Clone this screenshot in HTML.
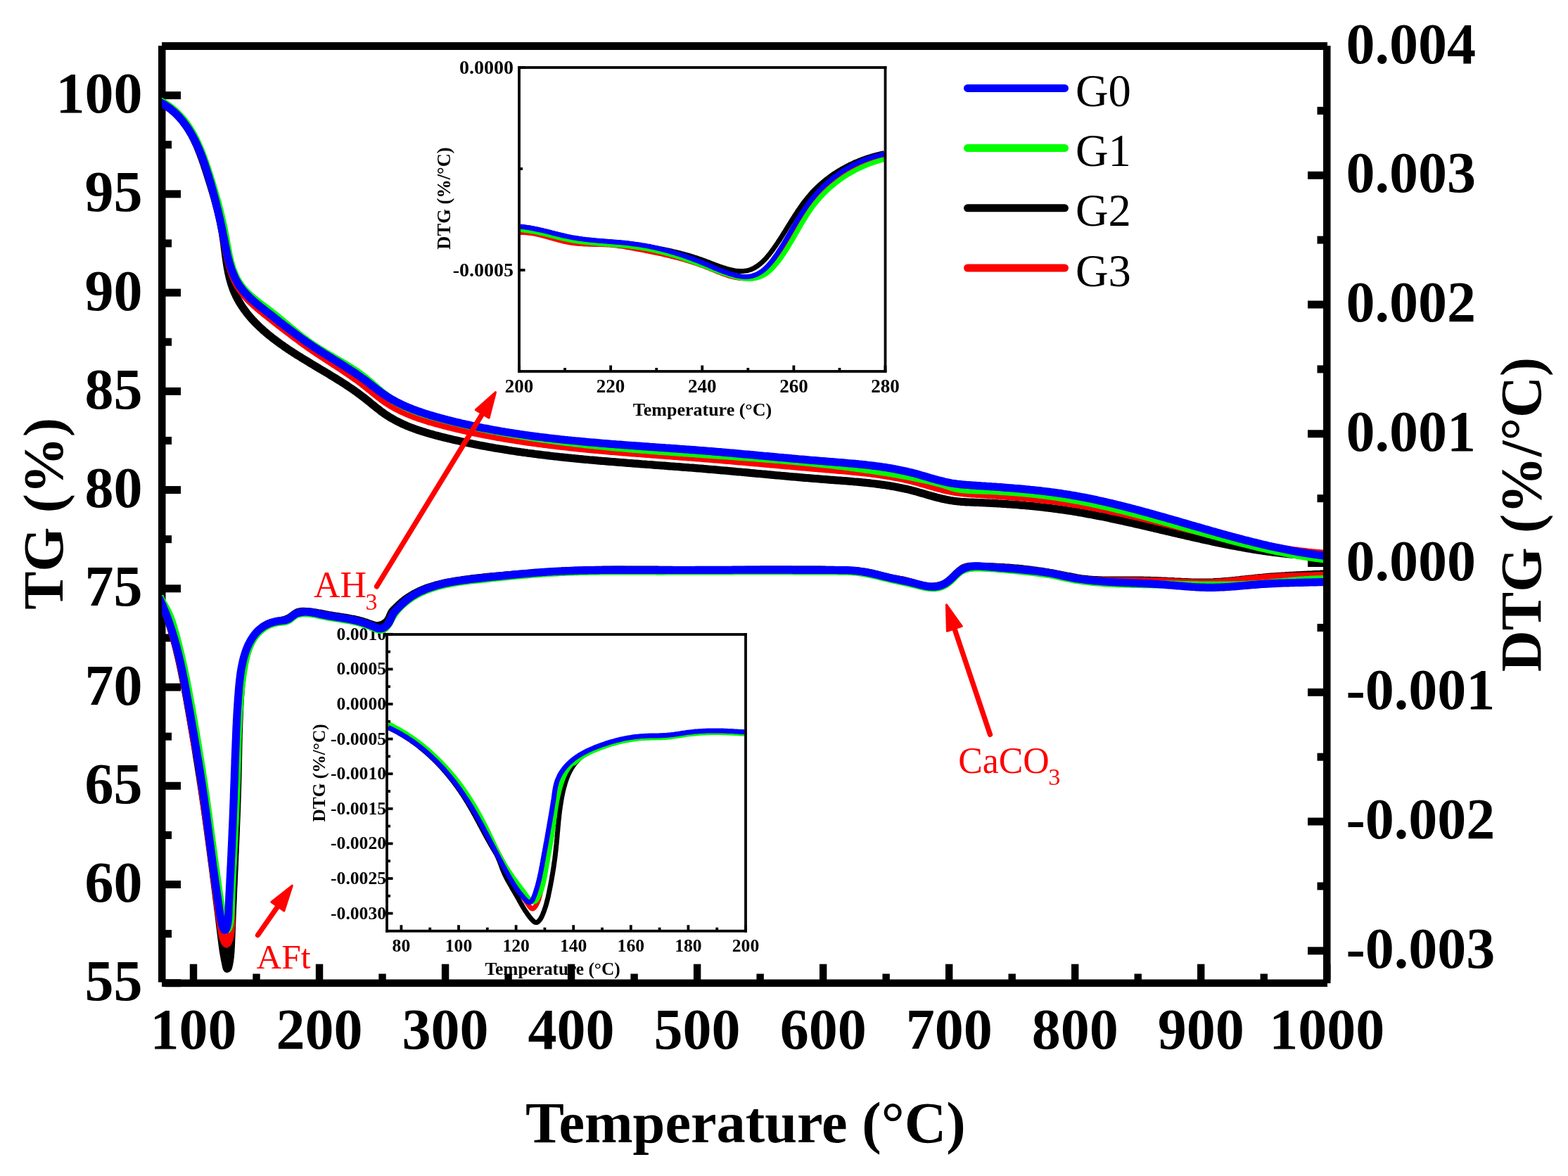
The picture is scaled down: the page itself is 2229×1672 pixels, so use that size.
<!DOCTYPE html>
<html><head><meta charset="utf-8"><title>TG-DTG</title>
<style>html,body{margin:0;padding:0;background:#fff;}svg{display:block;}text{font-family:'Liberation Serif', 'Times New Roman', serif;}</style>
</head><body>
<svg xmlns="http://www.w3.org/2000/svg" width="2229" height="1672" viewBox="0 0 2229 1672">
<rect width="100%" height="100%" fill="#fff"/>
<g id="inset1">
<clipPath id="c1"><rect x="738.0" y="96.0" width="520.5" height="432.0"/></clipPath>
<g clip-path="url(#c1)">
<path d="M740,322.3l2.5,0.3 2.4,0.3 2.5,0.3 2.5,0.4 2.4,0.4 2.5,0.5 2.5,0.4 2.4,0.5 2.5,0.5 2.4,0.6 2.4,0.5 2.5,0.6 2.4,0.6 2.4,0.6 2.5,0.6 2.4,0.6 2.4,0.6 2.5,0.6 2.4,0.6 2.4,0.6 2.4,0.6 2.4,0.6 2.5,0.6 2.4,0.6 2.4,0.6 2.5,0.6 2.4,0.5 2.5,0.6 2.4,0.5 2.5,0.5 2.4,0.4 2.5,0.5 2.4,0.4 2.5,0.4 2.5,0.4 2.4,0.4 2.5,0.4 2.5,0.3 2.5,0.4 2.5,0.3 2.4,0.3 2.5,0.3 2.5,0.3 2.5,0.3 2.5,0.2 2.5,0.3 2.5,0.2 2.4,0.3 2.5,0.2 2.5,0.3 2.5,0.2 2.5,0.2 2.5,0.3 2.5,0.2 2.5,0.2 2.5,0.2 2.5,0.3 2.4,0.2 2.5,0.2 2.5,0.3 2.5,0.2 2.5,0.3 2.5,0.2 2.5,0.3 2.5,0.2 2.4,0.3 2.5,0.3 2.5,0.3 2.5,0.3 2.5,0.3 2.5,0.4 2.4,0.3 2.5,0.4 2.5,0.3 2.5,0.4 2.4,0.4 2.5,0.4 2.5,0.4 2.4,0.4 2.5,0.5 2.4,0.4 2.5,0.5 2.5,0.5 2.4,0.5 2.5,0.5 2.4,0.5 2.4,0.5 2.5,0.6 2.4,0.5 2.5,0.6 2.4,0.6 2.4,0.6 2.4,0.7 2.4,0.6 2.5,0.7 2.4,0.6 2.4,0.7 2.4,0.7 2.4,0.8 2.3,0.7 2.4,0.8 2.4,0.7 2.4,0.8 2.3,0.8 2.4,0.9 2.4,0.8 2.3,0.9 2.3,0.9 2.4,0.9 2.3,0.9 2.4,0.9 2.3,0.9 2.3,0.9 2.4,0.8 2.3,0.9 2.4,0.9 2.3,0.8 2.4,0.8 2.4,0.7 2.4,0.8 2.4,0.6 2.4,0.6 2.4,0.6 2.5,0.5 2.5,0.4 2.4,0.3 2.5,0.3 2.5,0.1 2.5,0 2.5-0.2 2.5-0.3 2.5-0.4 2.4-0.7 2.3-0.8 2.3-1 2.3-1.1 2.1-1.2 2.1-1.4 2.1-1.4 2-1.6 1.9-1.6 1.8-1.7 1.8-1.7 1.8-1.8 1.7-1.8 1.6-1.9 1.6-1.9 1.6-2 1.5-1.9 1.5-2 1.5-2.1 1.5-2 1.4-2 1.4-2.1 1.4-2.1 1.4-2 1.4-2.1 1.4-2.1 1.3-2.1 1.4-2.1 1.3-2.1 1.3-2.2 1.4-2.1 1.3-2.1 1.3-2.1 1.3-2.2 1.3-2.1 1.3-2.1 1.4-2.1 1.3-2.2 1.3-2.1 1.3-2.1 1.4-2.1 1.3-2.1 1.4-2.1 1.4-2.1 1.3-2.1 1.4-2.1 1.4-2 1.5-2.1 1.4-2 1.5-2.1 1.5-2 1.5-2 1.5-1.9 1.6-2 1.5-1.9 1.7-1.9 1.6-1.9 1.6-1.9 1.7-1.9 1.8-1.8 1.7-1.8 1.8-1.7 1.8-1.8 1.8-1.7 1.9-1.6 1.8-1.7 1.9-1.6 2-1.6 1.9-1.6 2-1.5 2-1.6 2-1.5 2-1.4 2-1.5 2.1-1.4 2.1-1.3 2.1-1.4 2.1-1.3 2.2-1.3 2.1-1.3 2.2-1.2 2.2-1.2 2.2-1.2 2.2-1.1 2.2-1.2 2.3-1.1 2.3-1 2.2-1.1 2.3-1 2.3-0.9 2.3-1 2.4-0.9 2.3-0.9 2.3-0.9 2.4-0.8 2.4-0.8 2.3-0.8 2.4-0.7 2.4-0.8 2.4-0.6 2.4-0.7 2.5-0.6 2.4-0.6 2.4-0.6 2.5-0.5 2.4-0.5" fill="none" stroke="#000000" stroke-width="7" stroke-linejoin="round" stroke-linecap="butt"/>
<path d="M740,330.4l2.5,0 2.5,0.1 2.5,0.2 2.5,0.2 2.4,0.3 2.5,0.3 2.5,0.4 2.5,0.4 2.4,0.5 2.4,0.6 2.5,0.5 2.4,0.6 2.4,0.6 2.5,0.7 2.4,0.6 2.4,0.7 2.4,0.7 2.4,0.7 2.4,0.6 2.4,0.7 2.4,0.7 2.4,0.6 2.5,0.7 2.4,0.6 2.4,0.6 2.4,0.5 2.5,0.6 2.4,0.4 2.5,0.5 2.5,0.3 2.5,0.4 2.4,0.3 2.5,0.2 2.5,0.2 2.5,0.2 2.5,0.2 2.5,0.1 2.5,0.1 2.5,0.1 2.5,0.1 2.5,0.1 2.5,0 2.5,0.1 2.5,0 2.5,0.1 2.5,0.1 2.5,0 2.5,0.1 2.5,0.1 2.5,0.2 2.5,0.1 2.5,0.2 2.5,0.2 2.5,0.2 2.5,0.3 2.4,0.3 2.5,0.4 2.5,0.3 2.5,0.4 2.4,0.4 2.5,0.4 2.5,0.5 2.4,0.4 2.5,0.5 2.4,0.4 2.5,0.5 2.5,0.5 2.4,0.5 2.5,0.4 2.4,0.5 2.5,0.5 2.4,0.5 2.5,0.5 2.4,0.4 2.5,0.5 2.4,0.5 2.5,0.5 2.4,0.5 2.5,0.6 2.4,0.5 2.5,0.5 2.4,0.5 2.5,0.6 2.4,0.5 2.4,0.6 2.5,0.6 2.4,0.6 2.4,0.6 2.5,0.6 2.4,0.6 2.4,0.6 2.4,0.7 2.4,0.6 2.4,0.7 2.4,0.7 2.4,0.7 2.4,0.7 2.4,0.8 2.4,0.7 2.4,0.8 2.4,0.8 2.3,0.8 2.4,0.8 2.4,0.9 2.3,0.8 2.3,0.9 2.4,0.9 2.3,0.9 2.3,0.9 2.4,0.9 2.3,1 2.3,0.9 2.3,1 2.3,0.9 2.3,0.9 2.4,0.9 2.3,0.9 2.4,0.9 2.3,0.9 2.4,0.8 2.3,0.8 2.4,0.7 2.4,0.7 2.5,0.6 2.4,0.6 2.5,0.4 2.4,0.5 2.5,0.3 2.5,0.2 2.5,0.1 2.5,0 2.5-0.1 2.5-0.2 2.5-0.4 2.4-0.5 2.4-0.7 2.4-0.8 2.3-0.9 2.3-1 2.2-1.1 2.2-1.2 2.1-1.3 2.1-1.5 2-1.5 1.9-1.6 1.8-1.7 1.8-1.7 1.8-1.8 1.6-1.9 1.7-1.9 1.5-1.9 1.6-2 1.5-2 1.5-2 1.4-2 1.5-2.1 1.4-2 1.4-2.1 1.4-2.1 1.3-2.1 1.4-2.1 1.3-2.2 1.3-2.1 1.3-2.1 1.3-2.2 1.2-2.1 1.3-2.2 1.3-2.1 1.2-2.2 1.3-2.2 1.2-2.1 1.3-2.2 1.2-2.2 1.2-2.2 1.3-2.1 1.3-2.2 1.2-2.1 1.3-2.2 1.3-2.1 1.3-2.2 1.3-2.1 1.3-2.1 1.3-2.1 1.4-2.1 1.4-2.1 1.4-2.1 1.4-2.1 1.5-2 1.4-2 1.5-2 1.5-2 1.6-2 1.6-1.9 1.6-1.9 1.6-1.9 1.7-1.9 1.7-1.8 1.7-1.8 1.8-1.8 1.8-1.8 1.8-1.7 1.8-1.7 1.8-1.7 1.9-1.7 1.9-1.6 1.9-1.6 1.9-1.6 2-1.5 2-1.5 2-1.5 2-1.5 2.1-1.5 2-1.4 2.1-1.3 2.1-1.4 2.1-1.3 2.2-1.3 2.1-1.3 2.2-1.2 2.2-1.3 2.2-1.1 2.2-1.2 2.2-1.1 2.3-1.1 2.3-1.1 2.2-1 2.3-1 2.3-1 2.3-0.9 2.4-0.9 2.3-0.9 2.4-0.8 2.3-0.9 2.4-0.7 2.4-0.8 2.4-0.7 2.4-0.7 2.4-0.7 2.4-0.6 2.5-0.6" fill="none" stroke="#ff0000" stroke-width="7" stroke-linejoin="round" stroke-linecap="butt"/>
<path d="M740,326.6l2.5,0.2 2.4,0.3 2.5,0.3 2.5,0.3 2.5,0.4 2.4,0.4 2.5,0.5 2.5,0.4 2.4,0.5 2.5,0.5 2.4,0.6 2.4,0.5 2.5,0.6 2.4,0.6 2.4,0.6 2.5,0.6 2.4,0.6 2.4,0.6 2.5,0.6 2.4,0.6 2.4,0.6 2.4,0.6 2.5,0.6 2.4,0.6 2.4,0.5 2.5,0.6 2.4,0.5 2.5,0.5 2.4,0.5 2.5,0.4 2.5,0.5 2.4,0.4 2.5,0.4 2.5,0.3 2.4,0.4 2.5,0.3 2.5,0.3 2.5,0.3 2.5,0.2 2.5,0.3 2.5,0.2 2.4,0.3 2.5,0.2 2.5,0.2 2.5,0.2 2.5,0.2 2.5,0.2 2.5,0.2 2.5,0.2 2.5,0.2 2.5,0.2 2.5,0.2 2.5,0.2 2.5,0.2 2.5,0.2 2.5,0.2 2.4,0.2 2.5,0.2 2.5,0.2 2.5,0.3 2.5,0.2 2.5,0.3 2.5,0.3 2.5,0.3 2.4,0.3 2.5,0.3 2.5,0.4 2.5,0.3 2.4,0.4 2.5,0.4 2.5,0.5 2.4,0.4 2.5,0.5 2.5,0.4 2.4,0.5 2.5,0.6 2.4,0.5 2.4,0.5 2.5,0.6 2.4,0.6 2.4,0.6 2.5,0.6 2.4,0.6 2.4,0.7 2.4,0.7 2.4,0.6 2.4,0.7 2.4,0.7 2.4,0.7 2.4,0.8 2.4,0.7 2.4,0.8 2.4,0.7 2.3,0.8 2.4,0.8 2.4,0.8 2.4,0.8 2.3,0.8 2.4,0.8 2.3,0.9 2.4,0.8 2.4,0.9 2.3,0.8 2.3,0.9 2.4,0.9 2.3,0.9 2.4,0.8 2.3,0.9 2.3,1 2.4,0.9 2.3,0.9 2.3,0.9 2.4,0.9 2.3,0.9 2.3,0.9 2.4,0.8 2.3,0.9 2.4,0.8 2.3,0.9 2.4,0.8 2.4,0.7 2.4,0.8 2.4,0.7 2.4,0.7 2.4,0.6 2.4,0.6 2.5,0.6 2.4,0.5 2.5,0.4 2.4,0.4 2.5,0.3 2.5,0.2 2.5,0.2 2.5,0 2.5-0.2 2.5-0.3 2.5-0.4 2.4-0.6 2.4-0.7 2.3-0.8 2.3-1.1 2.3-1.1 2.1-1.2 2.1-1.4 2-1.5 2-1.6 1.8-1.7 1.8-1.7 1.8-1.8 1.6-1.8 1.7-1.9 1.6-2 1.5-1.9 1.6-2 1.5-2 1.4-2 1.5-2.1 1.4-2 1.4-2.1 1.4-2.1 1.3-2.1 1.4-2.1 1.3-2.1 1.3-2.1 1.3-2.2 1.3-2.1 1.3-2.2 1.2-2.1 1.3-2.2 1.2-2.2 1.3-2.1 1.2-2.2 1.3-2.2 1.2-2.1 1.3-2.2 1.2-2.2 1.3-2.1 1.2-2.2 1.3-2.2 1.3-2.1 1.3-2.2 1.3-2.1 1.3-2.1 1.3-2.1 1.4-2.1 1.4-2.1 1.4-2.1 1.4-2.1 1.4-2 1.5-2 1.5-2 1.5-2 1.6-2 1.5-1.9 1.7-1.9 1.6-1.9 1.7-1.9 1.6-1.8 1.8-1.9 1.7-1.7 1.8-1.8 1.8-1.8 1.8-1.7 1.8-1.7 1.9-1.6 1.9-1.7 1.9-1.6 1.9-1.6 2-1.6 1.9-1.5 2-1.5 2-1.5 2.1-1.4 2-1.5 2.1-1.4 2.1-1.3 2.1-1.4 2.2-1.3 2.1-1.2 2.2-1.3 2.2-1.2 2.2-1.2 2.2-1.2 2.2-1.1 2.3-1.1 2.2-1 2.3-1.1 2.3-1 2.3-1 2.3-0.9 2.3-0.9 2.4-0.9 2.3-0.8 2.4-0.8 2.4-0.8 2.4-0.8 2.4-0.7 2.4-0.7 2.4-0.6 2.4-0.6" fill="none" stroke="#00ff00" stroke-width="7" stroke-linejoin="round" stroke-linecap="butt"/>
<path d="M740,322.3l2.5,0.2 2.5,0.3 2.4,0.3 2.5,0.4 2.5,0.3 2.5,0.5 2.4,0.4 2.5,0.5 2.4,0.5 2.5,0.5 2.4,0.5 2.5,0.6 2.4,0.5 2.4,0.6 2.5,0.6 2.4,0.6 2.4,0.6 2.4,0.7 2.5,0.6 2.4,0.6 2.4,0.6 2.5,0.6 2.4,0.6 2.4,0.6 2.5,0.5 2.4,0.6 2.4,0.5 2.5,0.5 2.5,0.5 2.4,0.5 2.5,0.4 2.4,0.4 2.5,0.4 2.5,0.4 2.5,0.3 2.5,0.4 2.4,0.3 2.5,0.3 2.5,0.2 2.5,0.3 2.5,0.3 2.5,0.2 2.5,0.2 2.5,0.3 2.5,0.2 2.5,0.2 2.4,0.2 2.5,0.2 2.5,0.2 2.5,0.2 2.5,0.2 2.5,0.2 2.5,0.2 2.5,0.2 2.5,0.2 2.5,0.2 2.5,0.2 2.5,0.2 2.5,0.3 2.5,0.2 2.5,0.3 2.4,0.2 2.5,0.3 2.5,0.3 2.5,0.3 2.5,0.4 2.5,0.3 2.4,0.4 2.5,0.3 2.5,0.5 2.4,0.4 2.5,0.4 2.5,0.5 2.4,0.4 2.5,0.5 2.4,0.6 2.5,0.5 2.4,0.5 2.5,0.6 2.4,0.6 2.4,0.6 2.5,0.6 2.4,0.6 2.4,0.7 2.4,0.6 2.4,0.7 2.4,0.7 2.4,0.7 2.4,0.7 2.4,0.8 2.4,0.7 2.4,0.8 2.4,0.7 2.3,0.8 2.4,0.8 2.4,0.9 2.3,0.8 2.4,0.8 2.3,0.9 2.4,0.9 2.3,0.9 2.4,0.9 2.3,0.9 2.3,0.9 2.3,0.9 2.4,1 2.3,0.9 2.3,1 2.3,1 2.3,0.9 2.3,1 2.3,1 2.3,1 2.3,1 2.3,0.9 2.3,1 2.4,0.9 2.3,0.9 2.3,0.9 2.4,0.8 2.3,0.9 2.4,0.8 2.4,0.7 2.4,0.7 2.4,0.7 2.4,0.6 2.5,0.5 2.4,0.5 2.5,0.4 2.5,0.3 2.5,0.2 2.5,0 2.5-0.1 2.5-0.3 2.4-0.4 2.5-0.7 2.3-0.8 2.3-0.9 2.3-1.1 2.2-1.3 2.1-1.3 2-1.5 2-1.6 1.8-1.6 1.9-1.7 1.7-1.8 1.7-1.8 1.6-1.9 1.6-2 1.6-1.9 1.5-2 1.5-2.1 1.4-2 1.4-2.1 1.5-2 1.3-2.1 1.4-2.1 1.4-2.1 1.3-2.1 1.3-2.1 1.4-2.2 1.3-2.1 1.3-2.1 1.2-2.2 1.3-2.1 1.3-2.2 1.3-2.2 1.2-2.1 1.3-2.2 1.2-2.1 1.3-2.2 1.2-2.2 1.3-2.1 1.3-2.2 1.2-2.2 1.3-2.1 1.3-2.2 1.3-2.1 1.3-2.1 1.3-2.2 1.3-2.1 1.4-2.1 1.3-2.1 1.4-2.1 1.4-2.1 1.4-2 1.5-2.1 1.4-2 1.5-2 1.5-2 1.5-2 1.6-2 1.6-1.9 1.6-1.9 1.6-1.9 1.7-1.9 1.7-1.9 1.7-1.8 1.7-1.8 1.8-1.8 1.8-1.7 1.8-1.7 1.8-1.7 1.9-1.7 1.8-1.7 2-1.6 1.9-1.6 1.9-1.6 2-1.5 2-1.5 2-1.5 2-1.5 2.1-1.4 2-1.4 2.1-1.4 2.1-1.3 2.2-1.4 2.1-1.2 2.2-1.3 2.2-1.2 2.2-1.2 2.2-1.2 2.2-1.1 2.3-1.1 2.2-1.1 2.3-1 2.3-1 2.3-1 2.3-1 2.3-0.9 2.4-0.8 2.3-0.9 2.4-0.8 2.4-0.7 2.4-0.8 2.4-0.7 2.4-0.6 2.4-0.7 2.5-0.6 2.4-0.5 2.5-0.5" fill="none" stroke="#0000ff" stroke-width="7" stroke-linejoin="round" stroke-linecap="butt"/>
</g>
<rect x="736.10" y="94.10" width="3.80" height="435.80" fill="#000"/>
<rect x="1256.60" y="94.10" width="3.80" height="435.80" fill="#000"/>
<rect x="736.10" y="94.10" width="524.30" height="3.80" fill="#000"/>
<rect x="736.10" y="526.10" width="524.30" height="3.80" fill="#000"/>
<rect x="736.10" y="519.50" width="3.80" height="8.50" fill="#000"/>
<rect x="801.16" y="523.00" width="3.80" height="5.00" fill="#000"/>
<rect x="866.23" y="519.50" width="3.80" height="8.50" fill="#000"/>
<rect x="931.29" y="523.00" width="3.80" height="5.00" fill="#000"/>
<rect x="996.35" y="519.50" width="3.80" height="8.50" fill="#000"/>
<rect x="1061.41" y="523.00" width="3.80" height="5.00" fill="#000"/>
<rect x="1126.47" y="519.50" width="3.80" height="8.50" fill="#000"/>
<rect x="1191.54" y="523.00" width="3.80" height="5.00" fill="#000"/>
<rect x="1256.60" y="519.50" width="3.80" height="8.50" fill="#000"/>
<rect x="738.00" y="94.10" width="8.50" height="3.80" fill="#000"/>
<rect x="738.00" y="238.10" width="5.00" height="3.80" fill="#000"/>
<rect x="738.00" y="382.10" width="8.50" height="3.80" fill="#000"/>
<text x="738.00" y="557.80" font-size="27.00" font-weight="bold" text-anchor="middle" fill="#000">200</text>
<text x="868.12" y="557.80" font-size="27.00" font-weight="bold" text-anchor="middle" fill="#000">220</text>
<text x="998.25" y="557.80" font-size="27.00" font-weight="bold" text-anchor="middle" fill="#000">240</text>
<text x="1128.38" y="557.80" font-size="27.00" font-weight="bold" text-anchor="middle" fill="#000">260</text>
<text x="1258.50" y="557.80" font-size="27.00" font-weight="bold" text-anchor="middle" fill="#000">280</text>
<text x="730.10" y="104.70" font-size="28.00" font-weight="bold" text-anchor="end" fill="#000">0.0000</text>
<text x="730.10" y="392.70" font-size="28.00" font-weight="bold" text-anchor="end" fill="#000">-0.0005</text>
<text x="998.50" y="591.00" font-size="26.00" font-weight="bold" text-anchor="middle" fill="#000">Temperature (&#176;C)</text>
<text x="0.00" y="0.00" font-size="26.50" font-weight="bold" text-anchor="middle" fill="#000" transform="translate(640.4,282) rotate(-90)">DTG (%/&#176;C)</text>
</g>
<g id="inset2">
<clipPath id="c2"><rect x="550.0" y="902.0" width="510.0" height="421.7"/></clipPath>
<g clip-path="url(#c2)">
<path d="M552,1034.3l2.2,1.1 2.3,1.1 2.2,1.1 2.3,1.2 2.2,1.2 2.2,1.2 2.1,1.2 2.2,1.3 2.2,1.2 2.1,1.3 2.1,1.4 2.1,1.3 2.1,1.4 2.1,1.4 2.1,1.4 2,1.5 2.1,1.4 2,1.5 2,1.5 2,1.5 2,1.6 1.9,1.6 1.9,1.6 2,1.6 1.9,1.6 1.9,1.6 1.8,1.7 1.9,1.7 1.8,1.7 1.9,1.7 1.8,1.7 1.8,1.8 1.8,1.7 1.7,1.8 1.8,1.8 1.7,1.8 1.7,1.9 1.7,1.8 1.7,1.9 1.6,1.9 1.7,1.8 1.6,1.9 1.6,2 1.6,1.9 1.6,1.9 1.6,2 1.6,2 1.5,1.9 1.5,2 1.5,2 1.5,2.1 1.5,2 1.4,2 1.5,2.1 1.4,2 1.4,2.1 1.4,2.1 1.4,2.1 1.3,2.1 1.4,2.1 1.3,2.1 1.3,2.2 1.4,2.1 1.2,2.2 1.3,2.1 1.3,2.2 1.2,2.2 1.3,2.1 1.2,2.2 1.2,2.2 1.2,2.2 1.2,2.2 1.2,2.2 1.2,2.2 1.2,2.2 1.2,2.2 1.1,2.3 1.2,2.2 1.2,2.2 1.2,2.2 1.2,2.2 1.1,2.2 1.2,2.2 1.2,2.2 1.2,2.2 1.2,2.2 1.2,2.2 1.3,2.2 1.2,2.2 1.2,2.2 1.3,2.1 1.2,2.2 1.3,2.2 1.3,2.1 1.3,2.2 1.3,2.1 1.1,2.3 1.1,2.2 1,2.3 1,2.3 0.9,2.3 0.9,2.4 0.9,2.3 0.8,2.4 0.9,2.3 0.9,2.4 1,2.3 1,2.3 1,2.3 1.1,2.2 1.2,2.3 1.1,2.2 1.2,2.2 1.3,2.2 1.2,2.1 1.3,2.2 1.2,2.2 1.3,2.2 1.2,2.1 1.3,2.2 1.2,2.2 1.3,2.1 1.2,2.2 1.3,2.2 1.2,2.2 1.2,2.2 1.2,2.2 1.3,2.2 1.2,2.1 1.3,2.2 1.3,2.1 1.3,2.2 1.4,2.1 1.4,2 1.4,2.1 1.5,2 1.6,2 1.5,1.9 1.7,1.9 1.8,1.8 2,1.4 2.4,0.4 2.2-1.1 1.7-1.9 1.5-2 1.3-2.2 1.1-2.2 1-2.3 0.9-2.3 0.9-2.4 0.8-2.3 0.8-2.4 0.8-2.4 0.7-2.4 0.6-2.4 0.7-2.5 0.6-2.4 0.6-2.4 0.5-2.5 0.5-2.4 0.5-2.5 0.5-2.4 0.5-2.5 0.5-2.5 0.5-2.4 0.5-2.5 0.4-2.4 0.5-2.5 0.4-2.5 0.4-2.4 0.5-2.5 0.4-2.5 0.4-2.5 0.4-2.4 0.4-2.5 0.4-2.5 0.3-2.5 0.4-2.5 0.3-2.4 0.4-2.5 0.3-2.5 0.3-2.5 0.3-2.5 0.3-2.5 0.3-2.5 0.2-2.5 0.3-2.5 0.2-2.4 0.3-2.5 0.2-2.5 0.2-2.5 0.3-2.5 0.2-2.5 0.2-2.5 0.2-2.5 0.3-2.5 0.2-2.5 0.2-2.5 0.2-2.5 0.3-2.5 0.2-2.5 0.2-2.5 0.3-2.5 0.3-2.5 0.2-2.5 0.3-2.5 0.3-2.5 0.3-2.4 0.4-2.5 0.3-2.5 0.4-2.5 0.4-2.5 0.4-2.4 0.4-2.5 0.4-2.5 0.5-2.4 0.5-2.5 0.5-2.5 0.5-2.4 0.6-2.4 0.6-2.5 0.7-2.4 0.7-2.4 0.7-2.4 0.8-2.4 0.8-2.4 0.9-2.3 0.9-2.3 1-2.3 1.1-2.3 1.1-2.2 1.2-2.2 1.3-2.2 1.3-2.1 1.5-2.1 1.4-2 1.6-2 1.7-1.8 1.7-1.9 1.8-1.7 1.9-1.6 2-1.6 2-1.5 2.1-1.3 2.1-1.3 2.2-1.2 2.3-1.2 2.2-1.1 2.3-1 2.3-1 2.3-0.9 2.4-0.9 2.3-0.8 2.4-0.9 2.4-0.8 2.4-0.7 2.4-0.8 2.3-0.8 2.4-0.7 2.4-0.8 2.4-0.7 2.4-0.7 2.4-0.7 2.4-0.7 2.5-0.7 2.4-0.6 2.4-0.6 2.5-0.5 2.4-0.6 2.5-0.4 2.5-0.5 2.4-0.4 2.5-0.3 2.5-0.3 2.5-0.3 2.5-0.2 2.5-0.2 2.5-0.1 2.5-0.1 2.5-0.1 2.5-0.1 2.5,0 2.5-0.1 2.5-0.1 2.5-0.1 2.5-0.1 2.5-0.1 2.6-0.1 2.5-0.2 2.4-0.2 2.5-0.2 2.5-0.3 2.5-0.3 2.5-0.3 2.5-0.4 2.5-0.3 2.5-0.4 2.4-0.3 2.5-0.4 2.5-0.3 2.5-0.4 2.5-0.3 2.5-0.3 2.4-0.3 2.5-0.3 2.5-0.3 2.5-0.3 2.5-0.3 2.5-0.2 2.5-0.2 2.5-0.3 2.5-0.1 2.5-0.2 2.5-0.2 2.5-0.1 2.5-0.2 2.5-0.1 2.5,0 2.5-0.1 2.5,0 2.5-0.1 2.5,0 2.6,0.1 2.5,0 2.5,0 2.5,0.1 2.5,0.1 2.5,0.1 2.5,0.1 2.5,0.1 2.5,0.2 2.5,0.1 2.5,0.2 2.5,0.2 2.5,0.2 2.5,0.2" fill="none" stroke="#000000" stroke-width="7" stroke-linejoin="round" stroke-linecap="butt"/>
<path d="M551.8,1033.4l2.3,1 2.3,1 2.3,1.1 2.2,1.1 2.2,1.1 2.3,1.2 2.2,1.2 2.1,1.2 2.2,1.2 2.2,1.3 2.1,1.2 2.2,1.4 2.1,1.3 2.1,1.4 2,1.3 2.1,1.4 2.1,1.5 2,1.4 2,1.5 2,1.5 2,1.5 2,1.5 1.9,1.6 2,1.6 1.9,1.6 1.9,1.6 1.9,1.6 1.9,1.7 1.8,1.7 1.9,1.7 1.8,1.7 1.8,1.7 1.8,1.7 1.8,1.8 1.7,1.8 1.8,1.8 1.7,1.8 1.7,1.8 1.7,1.8 1.7,1.9 1.7,1.8 1.6,1.9 1.7,1.9 1.6,1.9 1.6,1.9 1.6,1.9 1.6,2 1.5,1.9 1.6,2 1.5,2 1.5,1.9 1.5,2 1.5,2 1.5,2.1 1.5,2 1.4,2 1.5,2 1.4,2.1 1.4,2.1 1.4,2 1.4,2.1 1.4,2.1 1.4,2.1 1.3,2.1 1.4,2.1 1.3,2.1 1.3,2.1 1.3,2.2 1.3,2.1 1.3,2.1 1.3,2.2 1.3,2.1 1.2,2.2 1.3,2.2 1.2,2.1 1.3,2.2 1.2,2.2 1.2,2.2 1.2,2.1 1.2,2.2 1.2,2.2 1.2,2.2 1.2,2.2 1.2,2.2 1.2,2.2 1.2,2.2 1.2,2.2 1.1,2.2 1.2,2.2 1.2,2.3 1.2,2.2 1.1,2.2 1.2,2.2 1.1,2.2 1.2,2.2 1.2,2.2 1.1,2.2 1.2,2.3 1.2,2.2 1.1,2.2 1.2,2.2 1.2,2.2 1.2,2.2 1.1,2.2 1.2,2.2 1.2,2.2 1.2,2.2 1.2,2.2 1.2,2.2 1.2,2.2 1.2,2.2 1.2,2.2 1.3,2.1 1.2,2.2 1.2,2.2 1.3,2.1 1.2,2.2 1.3,2.2 1.3,2.1 1.3,2.1 1.3,2.2 1.3,2.1 1.3,2.1 1.3,2.2 1.4,2.1 1.3,2.1 1.4,2.1 1.4,2.1 1.3,2 1.5,2.1 1.4,2.1 1.4,2 1.5,2 1.8,1.8 2.3,0.4 2-1.5 1.5-2 1.2-2.1 1.2-2.3 1-2.3 0.9-2.3 0.7-2.4 0.7-2.4 0.7-2.4 0.5-2.4 0.6-2.5 0.5-2.4 0.5-2.5 0.5-2.4 0.5-2.5 0.5-2.4 0.5-2.5 0.4-2.4 0.5-2.5 0.5-2.4 0.4-2.5 0.4-2.5 0.5-2.4 0.4-2.5 0.4-2.5 0.4-2.4 0.4-2.5 0.4-2.5 0.3-2.4 0.4-2.5 0.4-2.5 0.3-2.5 0.4-2.4 0.3-2.5 0.4-2.5 0.3-2.5 0.3-2.4 0.4-2.5 0.3-2.5 0.3-2.5 0.3-2.5 0.4-2.4 0.3-2.5 0.3-2.5 0.3-2.5 0.3-2.5 0.4-2.4 0.3-2.5 0.3-2.5 0.4-2.5 0.3-2.4 0.4-2.5 0.3-2.5 0.4-2.5 0.3-2.4 0.4-2.5 0.4-2.5 0.3-2.5 0.4-2.4 0.4-2.5 0.4-2.5 0.5-2.4 0.4-2.5 0.4-2.5 0.5-2.4 0.4-2.5 0.5-2.4 0.5-2.5 0.6-2.4 0.5-2.4 0.6-2.5 0.7-2.4 0.7-2.4 0.7-2.4 0.8-2.4 0.9-2.3 0.9-2.3 1-2.3 1.1-2.3 1.2-2.2 1.2-2.1 1.4-2.1 1.5-2 1.5-2 1.7-1.9 1.7-1.8 1.8-1.7 1.8-1.7 2-1.6 1.9-1.5 2.1-1.5 2-1.4 2.1-1.4 2.1-1.3 2.2-1.3 2.2-1.2 2.1-1.2 2.3-1.2 2.2-1.1 2.2-1.1 2.3-1.1 2.3-1 2.3-1 2.3-1 2.3-0.9 2.3-0.9 2.4-0.9 2.3-0.9 2.4-0.8 2.3-0.8 2.4-0.7 2.4-0.7 2.4-0.7 2.4-0.7 2.5-0.6 2.4-0.6 2.4-0.6 2.5-0.5 2.4-0.6 2.5-0.4 2.4-0.5 2.5-0.4 2.4-0.4 2.5-0.4 2.5-0.3 2.5-0.3 2.5-0.3 2.4-0.3 2.5-0.2 2.5-0.2 2.5-0.2 2.5-0.1 2.5-0.1 2.5-0.1 2.5-0.1 2.5-0.1 2.5-0.1 2.5,0 2.5-0.1 2.5-0.1 2.5-0.1 2.5-0.1 2.5-0.2 2.5-0.1 2.5-0.2 2.5-0.2 2.5-0.3 2.4-0.3 2.5-0.3 2.5-0.3 2.5-0.4 2.5-0.3 2.4-0.4 2.5-0.3 2.5-0.4 2.5-0.3 2.4-0.3 2.5-0.3 2.5-0.3 2.5-0.2 2.5-0.3 2.5-0.2 2.5-0.2 2.5-0.1 2.5-0.2 2.5-0.1 2.5-0.1 2.5-0.1 2.5-0.1 2.5,0 2.5,0 2.5-0.1 2.5,0 2.5,0.1 2.5,0 2.5,0 2.5,0.1 2.5,0.1 2.4,0.1 2.5,0.1 2.5,0.1 2.5,0.1 2.5,0.2 2.5,0.2 2.5,0.1 2.5,0.2 2.5,0.2 2.5,0.2 2.5,0.2" fill="none" stroke="#ff0000" stroke-width="7" stroke-linejoin="round" stroke-linecap="butt"/>
<path d="M552,1029.3l2.2,1.1 2.3,1.1 2.2,1.1 2.3,1.2 2.2,1.2 2.2,1.2 2.2,1.2 2.1,1.2 2.2,1.3 2.1,1.3 2.2,1.3 2.1,1.3 2.1,1.4 2.1,1.4 2.1,1.4 2,1.4 2.1,1.4 2,1.5 2.1,1.5 2,1.5 2,1.5 1.9,1.5 2,1.6 2,1.6 1.9,1.6 1.9,1.6 1.9,1.6 1.9,1.6 1.9,1.7 1.8,1.7 1.9,1.7 1.8,1.7 1.8,1.7 1.8,1.8 1.8,1.7 1.8,1.8 1.8,1.8 1.7,1.8 1.7,1.8 1.8,1.8 1.7,1.9 1.6,1.8 1.7,1.9 1.7,1.9 1.6,1.9 1.6,1.9 1.6,1.9 1.6,1.9 1.6,2 1.6,1.9 1.5,2 1.6,2 1.5,2 1.5,2 1.5,2 1.4,2 1.5,2.1 1.4,2 1.5,2.1 1.4,2.1 1.4,2 1.4,2.1 1.3,2.1 1.4,2.1 1.3,2.2 1.3,2.1 1.3,2.1 1.3,2.2 1.3,2.1 1.3,2.2 1.2,2.2 1.3,2.2 1.2,2.1 1.2,2.2 1.2,2.2 1.2,2.2 1.2,2.3 1.2,2.2 1.1,2.2 1.2,2.2 1.1,2.3 1.1,2.2 1.1,2.2 1.2,2.3 1.1,2.2 1.1,2.3 1,2.3 1.1,2.2 1.1,2.3 1.1,2.2 1,2.3 1.1,2.3 1,2.3 1.1,2.2 1.1,2.3 1,2.3 1.1,2.2 1.1,2.3 1.1,2.2 1.2,2.3 1.1,2.2 1.2,2.2 1.2,2.2 1.3,2.2 1.2,2.1 1.3,2.2 1.3,2.1 1.4,2.1 1.3,2.1 1.4,2.1 1.4,2.1 1.4,2.1 1.4,2.1 1.5,2 1.4,2 1.5,2.1 1.5,2 1.5,2 1.5,2 1.5,2 1.5,2 1.5,2 1.5,2 1.5,2.1 1.5,2 1.4,2 1.5,2.1 1.4,2 1.5,2 1.7,1.9 1.9,1.6 2.2,1.3 2.4,0.6 2.3-0.8 1.6-1.9 1.3-2.2 1.2-2.2 1.1-2.2 1.1-2.3 0.9-2.3 0.9-2.4 0.8-2.3 0.7-2.4 0.7-2.4 0.6-2.5 0.6-2.4 0.5-2.5 0.5-2.4 0.5-2.5 0.5-2.4 0.4-2.5 0.4-2.5 0.4-2.5 0.4-2.4 0.5-2.5 0.4-2.5 0.4-2.4 0.5-2.5 0.4-2.5 0.5-2.4 0.4-2.5 0.4-2.5 0.5-2.4 0.4-2.5 0.5-2.5 0.4-2.4 0.4-2.5 0.5-2.5 0.4-2.5 0.4-2.4 0.4-2.5 0.4-2.5 0.4-2.4 0.4-2.5 0.4-2.5 0.4-2.5 0.3-2.5 0.4-2.4 0.3-2.5 0.4-2.5 0.3-2.5 0.3-2.5 0.4-2.5 0.3-2.4 0.3-2.5 0.4-2.5 0.3-2.5 0.4-2.5 0.4-2.5 0.4-2.4 0.4-2.5 0.4-2.5 0.5-2.4 0.5-2.5 0.5-2.4 0.5-2.5 0.6-2.4 0.6-2.5 0.6-2.4 0.7-2.4 0.6-2.4 0.8-2.4 0.7-2.4 0.9-2.4 0.8-2.3 0.9-2.4 1-2.3 1-2.3 1-2.3 1.2-2.2 1.3-2.2 1.3-2.1 1.5-2 1.5-2 1.6-1.9 1.8-1.7 2-0.1 2-1.5 1.8-1.7 1.9-1.6 1.9-1.6 2-1.6 2-1.5 2.1-1.3 2.2-1.3 2.2-1.1 2.3-1.1 2.3-1.1 2.2-1.1 2.3-1 2.3-1 2.3-1 2.3-0.9 2.4-1 2.3-0.9 2.4-0.8 2.3-0.9 2.4-0.8 2.3-0.8 2.4-0.8 2.4-0.8 2.4-0.7 2.4-0.7 2.5-0.6 2.4-0.6 2.4-0.6 2.5-0.6 2.4-0.5 2.5-0.5 2.4-0.4 2.5-0.5 2.5-0.4 2.5-0.4 2.4-0.4 2.5-0.3 2.5-0.4 2.5-0.3 2.5-0.3 2.5-0.2 2.5-0.2 2.5-0.2 2.5-0.1 2.5-0.1 2.5,0 2.5,0 2.5,0 2.5-0.1 2.5,0 2.5,0 2.5-0.1 2.5-0.1 2.5-0.2 2.5-0.2 2.5-0.2 2.5-0.3 2.5-0.3 2.5-0.3 2.5-0.4 2.5-0.4 2.4-0.3 2.5-0.4 2.5-0.4 2.5-0.4 2.5-0.4 2.4-0.3 2.5-0.3 2.5-0.4 2.5-0.2 2.5-0.3 2.5-0.2 2.5-0.2 2.5-0.2 2.5-0.2 2.5-0.1 2.5-0.1 2.5-0.1 2.5-0.1 2.5-0.1 2.5,0 2.5,0 2.5,0 2.5,0 2.5,0 2.6,0 2.5,0.1 2.5,0.1 2.5,0 2.5,0.1 2.5,0.2 2.5,0.1 2.5,0.1 2.5,0.1 2.5,0.2 2.5,0.2 2.5,0.1 2.5,0.2 2.5,0.2" fill="none" stroke="#00ff00" stroke-width="7" stroke-linejoin="round" stroke-linecap="butt"/>
<path d="M551.9,1034.3l2.3,1.1 2.2,1.1 2.3,1 2.2,1.2 2.3,1.1 2.2,1.2 2.2,1.2 2.1,1.2 2.2,1.3 2.2,1.3 2.1,1.3 2.1,1.3 2.1,1.3 2.1,1.4 2.1,1.4 2.1,1.4 2,1.5 2,1.5 2,1.4 2,1.6 2,1.5 2,1.5 1.9,1.6 2,1.6 1.9,1.6 1.9,1.6 1.9,1.7 1.8,1.7 1.9,1.7 1.8,1.7 1.8,1.7 1.8,1.7 1.8,1.8 1.8,1.8 1.7,1.7 1.8,1.8 1.7,1.9 1.7,1.8 1.7,1.8 1.7,1.9 1.6,1.9 1.7,1.9 1.6,1.9 1.6,1.9 1.6,1.9 1.6,2 1.6,1.9 1.5,2 1.5,1.9 1.6,2 1.5,2 1.5,2 1.5,2.1 1.4,2 1.5,2 1.4,2.1 1.4,2 1.4,2.1 1.4,2.1 1.4,2.1 1.4,2.1 1.4,2.1 1.3,2.1 1.3,2.1 1.3,2.1 1.4,2.2 1.3,2.1 1.2,2.2 1.3,2.1 1.3,2.2 1.2,2.2 1.3,2.1 1.2,2.2 1.2,2.2 1.2,2.2 1.2,2.2 1.3,2.2 1.1,2.2 1.2,2.2 1.2,2.2 1.2,2.2 1.2,2.2 1.1,2.2 1.2,2.2 1.2,2.3 1.1,2.2 1.2,2.2 1.1,2.2 1.2,2.2 1.1,2.3 1.2,2.2 1.1,2.2 1.2,2.2 1.1,2.3 1.2,2.2 1.2,2.2 1.1,2.2 1.2,2.2 1.1,2.3 1.2,2.2 1.2,2.2 1.2,2.2 1.1,2.2 1.2,2.2 1.2,2.2 1.2,2.2 1.2,2.2 1.3,2.2 1.2,2.2 1.2,2.1 1.3,2.2 1.2,2.2 1.3,2.1 1.3,2.2 1.3,2.1 1.3,2.2 1.3,2.1 1.4,2.1 1.4,2.1 1.4,2 1.5,2.1 1.4,2 1.6,1.9 1.6,2 1.6,1.9 1.6,1.9 1.7,1.8 1.8,1.8 1.8,1.7 2.3,1.1 2.3-0.8 1.8-1.8 1.3-2.1 1-2.3 0.9-2.3 0.9-2.4 0.8-2.3 0.7-2.4 0.8-2.4 0.7-2.4 0.7-2.4 0.6-2.4 0.7-2.5 0.6-2.4 0.5-2.4 0.6-2.5 0.5-2.4 0.6-2.5 0.5-2.4 0.5-2.5 0.4-2.4 0.5-2.5 0.5-2.4 0.4-2.5 0.5-2.5 0.4-2.4 0.5-2.5 0.4-2.5 0.5-2.4 0.4-2.5 0.5-2.4 0.4-2.5 0.5-2.5 0.4-2.4 0.5-2.5 0.4-2.5 0.5-2.4 0.4-2.5 0.5-2.5 0.4-2.4 0.4-2.5 0.5-2.5 0.4-2.4 0.4-2.5 0.5-2.4 0.4-2.5 0.4-2.5 0.5-2.4 0.4-2.5 0.4-2.5 0.4-2.5 0.5-2.4 0.4-2.5 0.4-2.5 0.4-2.4 0.4-2.5 0.4-2.5 0.4-2.4 0.4-2.5 0.4-2.5 0.4-2.5 0.3-2.4 0.4-2.5 0.3-2.5 0.4-2.5 0.3-2.5 0.5-2.4 0.4-2.5 0.6-2.4 0.6-2.5 0.7-2.4 0.8-2.3 1-2.3 1-2.3 1.1-2.3 1.2-2.2 1.3-2.1 1.4-2.1 1.5-2 1.5-2 1.6-1.9 1.7-1.9 1.7-1.8 1.8-1.7 1.8-1.7 1.9-1.7 2-1.6 2-1.5 2-1.5 2.1-1.4 2.1-1.3 2.1-1.3 2.2-1.3 2.2-1.2 2.2-1.2 2.2-1.1 2.3-1.1 2.2-1 2.3-1 2.3-1 2.3-1 2.4-0.9 2.3-0.9 2.3-0.9 2.4-0.9 2.4-0.8 2.3-0.8 2.4-0.8 2.4-0.8 2.4-0.7 2.4-0.7 2.4-0.7 2.4-0.7 2.4-0.6 2.4-0.6 2.5-0.6 2.4-0.6 2.5-0.5 2.4-0.5 2.5-0.5 2.4-0.4 2.5-0.4 2.5-0.4 2.5-0.4 2.4-0.3 2.5-0.3 2.5-0.2 2.5-0.3 2.5-0.1 2.5-0.2 2.5-0.1 2.5-0.1 2.5-0.1 2.5,0 2.5-0.1 2.5,0 2.5-0.1 2.5,0 2.5-0.1 2.5-0.1 2.5-0.1 2.5-0.1 2.5-0.2 2.5-0.3 2.5-0.2 2.5-0.3 2.5-0.3 2.5-0.4 2.5-0.3 2.4-0.4 2.5-0.4 2.5-0.4 2.5-0.3 2.4-0.4 2.5-0.3 2.5-0.3 2.5-0.3 2.5-0.3 2.5-0.3 2.5-0.2 2.5-0.2 2.5-0.1 2.5-0.2 2.5-0.1 2.5-0.1 2.5-0.1 2.5-0.1 2.5,0 2.5-0.1 2.5,0 2.5,0 2.5,0 2.5,0.1 2.5,0 2.5,0.1 2.5,0.1 2.5,0.1 2.5,0.1 2.5,0.1 2.5,0.1 2.5,0.2 2.5,0.1 2.5,0.2 2.5,0.1 2.5,0.2 2.5,0.2 2.5,0.2" fill="none" stroke="#0000ff" stroke-width="7" stroke-linejoin="round" stroke-linecap="butt"/>
</g>
<rect x="548.10" y="900.10" width="3.80" height="425.50" fill="#000"/>
<rect x="1058.10" y="900.10" width="3.80" height="425.50" fill="#000"/>
<rect x="548.10" y="900.10" width="513.80" height="3.80" fill="#000"/>
<rect x="548.10" y="1321.80" width="513.80" height="3.80" fill="#000"/>
<rect x="568.50" y="1315.20" width="3.80" height="8.50" fill="#000"/>
<rect x="609.30" y="1318.70" width="3.80" height="5.00" fill="#000"/>
<rect x="650.10" y="1315.20" width="3.80" height="8.50" fill="#000"/>
<rect x="690.90" y="1318.70" width="3.80" height="5.00" fill="#000"/>
<rect x="731.70" y="1315.20" width="3.80" height="8.50" fill="#000"/>
<rect x="772.50" y="1318.70" width="3.80" height="5.00" fill="#000"/>
<rect x="813.30" y="1315.20" width="3.80" height="8.50" fill="#000"/>
<rect x="854.10" y="1318.70" width="3.80" height="5.00" fill="#000"/>
<rect x="894.90" y="1315.20" width="3.80" height="8.50" fill="#000"/>
<rect x="935.70" y="1318.70" width="3.80" height="5.00" fill="#000"/>
<rect x="976.50" y="1315.20" width="3.80" height="8.50" fill="#000"/>
<rect x="1017.30" y="1318.70" width="3.80" height="5.00" fill="#000"/>
<rect x="1058.10" y="1315.20" width="3.80" height="8.50" fill="#000"/>
<rect x="550.00" y="899.90" width="8.50" height="3.80" fill="#000"/>
<rect x="550.00" y="924.70" width="5.00" height="3.80" fill="#000"/>
<rect x="550.00" y="949.50" width="8.50" height="3.80" fill="#000"/>
<rect x="550.00" y="974.30" width="5.00" height="3.80" fill="#000"/>
<rect x="550.00" y="999.10" width="8.50" height="3.80" fill="#000"/>
<rect x="550.00" y="1023.90" width="5.00" height="3.80" fill="#000"/>
<rect x="550.00" y="1048.70" width="8.50" height="3.80" fill="#000"/>
<rect x="550.00" y="1073.50" width="5.00" height="3.80" fill="#000"/>
<rect x="550.00" y="1098.30" width="8.50" height="3.80" fill="#000"/>
<rect x="550.00" y="1123.10" width="5.00" height="3.80" fill="#000"/>
<rect x="550.00" y="1147.90" width="8.50" height="3.80" fill="#000"/>
<rect x="550.00" y="1172.70" width="5.00" height="3.80" fill="#000"/>
<rect x="550.00" y="1197.50" width="8.50" height="3.80" fill="#000"/>
<rect x="550.00" y="1222.30" width="5.00" height="3.80" fill="#000"/>
<rect x="550.00" y="1247.10" width="8.50" height="3.80" fill="#000"/>
<rect x="550.00" y="1271.90" width="5.00" height="3.80" fill="#000"/>
<rect x="550.00" y="1296.70" width="8.50" height="3.80" fill="#000"/>
<text x="570.40" y="1352.60" font-size="25.60" font-weight="bold" text-anchor="middle" fill="#000">80</text>
<text x="652.00" y="1352.60" font-size="25.60" font-weight="bold" text-anchor="middle" fill="#000">100</text>
<text x="733.60" y="1352.60" font-size="25.60" font-weight="bold" text-anchor="middle" fill="#000">120</text>
<text x="815.20" y="1352.60" font-size="25.60" font-weight="bold" text-anchor="middle" fill="#000">140</text>
<text x="896.80" y="1352.60" font-size="25.60" font-weight="bold" text-anchor="middle" fill="#000">160</text>
<text x="978.40" y="1352.60" font-size="25.60" font-weight="bold" text-anchor="middle" fill="#000">180</text>
<text x="1060.00" y="1352.60" font-size="25.60" font-weight="bold" text-anchor="middle" fill="#000">200</text>
<text x="549.00" y="909.80" font-size="25.60" font-weight="bold" text-anchor="end" fill="#000">0.0010</text>
<text x="549.00" y="959.40" font-size="25.60" font-weight="bold" text-anchor="end" fill="#000">0.0005</text>
<text x="549.00" y="1009.00" font-size="25.60" font-weight="bold" text-anchor="end" fill="#000">0.0000</text>
<text x="549.00" y="1058.60" font-size="25.60" font-weight="bold" text-anchor="end" fill="#000">-0.0005</text>
<text x="549.00" y="1108.20" font-size="25.60" font-weight="bold" text-anchor="end" fill="#000">-0.0010</text>
<text x="549.00" y="1157.80" font-size="25.60" font-weight="bold" text-anchor="end" fill="#000">-0.0015</text>
<text x="549.00" y="1207.40" font-size="25.60" font-weight="bold" text-anchor="end" fill="#000">-0.0020</text>
<text x="549.00" y="1257.00" font-size="25.60" font-weight="bold" text-anchor="end" fill="#000">-0.0025</text>
<text x="549.00" y="1306.60" font-size="25.60" font-weight="bold" text-anchor="end" fill="#000">-0.0030</text>
<text x="785.60" y="1386.30" font-size="25.30" font-weight="bold" text-anchor="middle" fill="#000">Temperature (&#176;C)</text>
<text x="0.00" y="0.00" font-size="25.40" font-weight="bold" text-anchor="middle" fill="#000" transform="translate(461.5,1098.9) rotate(-90)">DTG (%/&#176;C)</text>
</g>
<g id="axes">
<rect x="225.00" y="65.00" width="10.50" height="1331.50" fill="#000"/>
<rect x="230.00" y="60.00" width="1657.00" height="11.00" fill="#000"/>
<rect x="1881.00" y="65.00" width="10.50" height="1333.00" fill="#000"/>
<rect x="230.00" y="1392.50" width="1657.00" height="10.50" fill="#000"/>
<rect x="235.00" y="1392.25" width="22.00" height="11.00" fill="#000"/>
<rect x="235.00" y="1322.13" width="9.00" height="11.00" fill="#000"/>
<rect x="235.00" y="1252.01" width="22.00" height="11.00" fill="#000"/>
<rect x="235.00" y="1181.89" width="9.00" height="11.00" fill="#000"/>
<rect x="235.00" y="1111.78" width="22.00" height="11.00" fill="#000"/>
<rect x="235.00" y="1041.66" width="9.00" height="11.00" fill="#000"/>
<rect x="235.00" y="971.54" width="22.00" height="11.00" fill="#000"/>
<rect x="235.00" y="901.42" width="9.00" height="11.00" fill="#000"/>
<rect x="235.00" y="831.30" width="22.00" height="11.00" fill="#000"/>
<rect x="235.00" y="761.18" width="9.00" height="11.00" fill="#000"/>
<rect x="235.00" y="691.07" width="22.00" height="11.00" fill="#000"/>
<rect x="235.00" y="620.95" width="9.00" height="11.00" fill="#000"/>
<rect x="235.00" y="550.83" width="22.00" height="11.00" fill="#000"/>
<rect x="235.00" y="480.71" width="9.00" height="11.00" fill="#000"/>
<rect x="235.00" y="410.59" width="22.00" height="11.00" fill="#000"/>
<rect x="235.00" y="340.47" width="9.00" height="11.00" fill="#000"/>
<rect x="235.00" y="270.36" width="22.00" height="11.00" fill="#000"/>
<rect x="235.00" y="200.24" width="9.00" height="11.00" fill="#000"/>
<rect x="235.00" y="130.12" width="22.00" height="11.00" fill="#000"/>
<rect x="235.00" y="60.00" width="9.00" height="11.00" fill="#000"/>
<rect x="1859.00" y="1346.31" width="22.50" height="11.00" fill="#000"/>
<rect x="1872.50" y="1254.43" width="9.00" height="11.00" fill="#000"/>
<rect x="1859.00" y="1162.55" width="22.50" height="11.00" fill="#000"/>
<rect x="1872.50" y="1070.67" width="9.00" height="11.00" fill="#000"/>
<rect x="1859.00" y="978.79" width="22.50" height="11.00" fill="#000"/>
<rect x="1872.50" y="886.91" width="9.00" height="11.00" fill="#000"/>
<rect x="1859.00" y="795.03" width="22.50" height="11.00" fill="#000"/>
<rect x="1872.50" y="703.16" width="9.00" height="11.00" fill="#000"/>
<rect x="1859.00" y="611.28" width="22.50" height="11.00" fill="#000"/>
<rect x="1872.50" y="519.40" width="9.00" height="11.00" fill="#000"/>
<rect x="1859.00" y="427.52" width="22.50" height="11.00" fill="#000"/>
<rect x="1872.50" y="335.64" width="9.00" height="11.00" fill="#000"/>
<rect x="1859.00" y="243.76" width="22.50" height="11.00" fill="#000"/>
<rect x="1872.50" y="151.88" width="9.00" height="11.00" fill="#000"/>
<rect x="1859.00" y="60.00" width="22.50" height="11.00" fill="#000"/>
<rect x="269.81" y="1370.70" width="10.40" height="22.30" fill="#000"/>
<rect x="359.32" y="1384.50" width="10.40" height="8.50" fill="#000"/>
<rect x="448.83" y="1370.70" width="10.40" height="22.30" fill="#000"/>
<rect x="538.35" y="1384.50" width="10.40" height="8.50" fill="#000"/>
<rect x="627.86" y="1370.70" width="10.40" height="22.30" fill="#000"/>
<rect x="717.37" y="1384.50" width="10.40" height="8.50" fill="#000"/>
<rect x="806.89" y="1370.70" width="10.40" height="22.30" fill="#000"/>
<rect x="896.40" y="1384.50" width="10.40" height="8.50" fill="#000"/>
<rect x="985.91" y="1370.70" width="10.40" height="22.30" fill="#000"/>
<rect x="1075.43" y="1384.50" width="10.40" height="8.50" fill="#000"/>
<rect x="1164.94" y="1370.70" width="10.40" height="22.30" fill="#000"/>
<rect x="1254.46" y="1384.50" width="10.40" height="8.50" fill="#000"/>
<rect x="1343.97" y="1370.70" width="10.40" height="22.30" fill="#000"/>
<rect x="1433.48" y="1384.50" width="10.40" height="8.50" fill="#000"/>
<rect x="1523.00" y="1370.70" width="10.40" height="22.30" fill="#000"/>
<rect x="1612.51" y="1384.50" width="10.40" height="8.50" fill="#000"/>
<rect x="1702.02" y="1370.70" width="10.40" height="22.30" fill="#000"/>
<rect x="1791.54" y="1384.50" width="10.40" height="8.50" fill="#000"/>
<rect x="1881.05" y="1370.70" width="10.40" height="22.30" fill="#000"/>
</g>
<clipPath id="cm"><rect x="230" y="60" width="1651" height="1343"/></clipPath>
<g clip-path="url(#cm)">
<g id="tg">
<path d="M224.6,144.1l2.3,1.1 2.2,1.1 2.2,1.2 2.1,1.3 2.2,1.3 2,1.4 2.1,1.4 2,1.5 2,1.5 1.9,1.6 1.9,1.7 1.8,1.7 1.8,1.7 1.8,1.8 1.7,1.8 1.7,1.9 1.6,1.9 1.6,1.9 1.5,2 1.5,2 1.5,2 1.4,2.1 1.3,2.1 1.4,2.1 1.3,2.1 1.2,2.2 1.3,2.1 1.2,2.2 1.1,2.3 1.2,2.2 1.1,2.2 1,2.3 1.1,2.3 1,2.2 1,2.3 1,2.3 0.9,2.4 0.9,2.3 1,2.3 0.8,2.4 0.9,2.3 0.9,2.3 0.8,2.4 0.8,2.4 0.9,2.3 0.8,2.4 0.7,2.4 0.8,2.3 0.8,2.4 0.8,2.4 0.7,2.4 0.8,2.4 0.7,2.3 0.8,2.4 0.7,2.4 0.8,2.4 0.7,2.4 0.8,2.4 0.7,2.4 0.7,2.4 0.7,2.4 0.8,2.4 0.7,2.4 0.7,2.4 0.7,2.4 0.7,2.4 0.6,2.4 0.7,2.4 0.7,2.4 0.6,2.4 0.6,2.4 0.7,2.4 0.6,2.5 0.6,2.4 0.6,2.4 0.5,2.5 0.6,2.4 0.5,2.4 0.6,2.5 0.5,2.4 0.5,2.5 0.5,2.4 0.4,2.5 0.5,2.5 0.4,2.4 0.5,2.5 0.4,2.4 0.3,2.5 0.4,2.5 0.4,2.5 0.3,2.4 0.4,2.5 0.3,2.5 0.3,2.5 0.3,2.5 0.4,2.4 0.3,2.5 0.3,2.5 0.3,2.5 0.4,2.5 0.3,2.4 0.4,2.5 0.3,2.5 0.4,2.4 0.4,2.5 0.4,2.5 0.5,2.4 0.5,2.5 0.4,2.5 0.6,2.4 0.5,2.4 0.6,2.5 0.6,2.4 0.7,2.4 0.7,2.4 0.7,2.4 0.8,2.4 0.8,2.3 0.9,2.4 0.9,2.3 1,2.3 1.1,2.3 1,2.2 1.2,2.3 1.1,2.2 1.2,2.2 1.3,2.1 1.3,2.2 1.3,2.1 1.4,2.1 1.4,2 1.4,2.1 1.5,2 1.5,2 1.6,2 1.5,1.9 1.6,1.9 1.7,1.9 1.6,1.9 1.7,1.8 1.7,1.9 1.8,1.8 1.7,1.7 1.8,1.8 1.8,1.7 1.8,1.7 1.9,1.7 1.8,1.7 1.9,1.6 1.9,1.7 1.9,1.6 1.9,1.6 2,1.6 1.9,1.5 2,1.6 2,1.5 2,1.5 2,1.5 2,1.5 2,1.5 2,1.4 2.1,1.4 2,1.5 2.1,1.4 2.1,1.4 2,1.4 2.1,1.4 2.1,1.3 2.1,1.4 2.1,1.4 2.1,1.3 2.1,1.4 2.2,1.3 2.1,1.3 2.1,1.3 2.1,1.3 2.2,1.3 2.1,1.3 2.1,1.3 2.2,1.3 2.1,1.3 2.2,1.3 2.1,1.3 2.2,1.3 2.1,1.2 2.2,1.3 2.1,1.3 2.2,1.3 2.1,1.3 2.2,1.2 2.1,1.3 2.2,1.3 2.1,1.3 2.1,1.3 2.2,1.3 2.1,1.3 2.1,1.3 2.2,1.3 2.1,1.3 2.1,1.3 2.1,1.4 2.1,1.3 2.1,1.4 2.1,1.3 2.1,1.4 2.1,1.4 2.1,1.4 2.1,1.4 2,1.4 2.1,1.4 2,1.5 2,1.4 2.1,1.5 2,1.5 2,1.5 2,1.5 2,1.5 1.9,1.6 2,1.5 1.9,1.6 2,1.6 1.9,1.6 1.9,1.5 2,1.6 1.9,1.6 2,1.6 1.9,1.5 2,1.5 2,1.6 2,1.5 2,1.4 2.1,1.5 2,1.4 2.1,1.3 2.2,1.4 2.1,1.3 2.2,1.2 2.1,1.2 2.2,1.2 2.2,1.2 2.3,1.1 2.2,1.1 2.3,1.1 2.2,1.1 2.3,1 2.3,1 2.3,0.9 2.4,1 2.3,0.9 2.3,0.8 2.4,0.9 2.3,0.8 2.4,0.9 2.4,0.8 2.3,0.7 2.4,0.8 2.4,0.7 2.4,0.8 2.4,0.7 2.4,0.7 2.4,0.6 2.4,0.7 2.4,0.7 2.4,0.6 2.5,0.6 2.4,0.7 2.4,0.6 2.4,0.6 2.5,0.6 2.4,0.6 2.4,0.6 2.5,0.5 2.4,0.6 2.4,0.6 2.5,0.5 2.4,0.6 2.4,0.5 2.5,0.6 2.4,0.5 2.5,0.6 2.4,0.5 2.5,0.5 2.4,0.5 2.5,0.5 2.4,0.5 2.5,0.5 2.4,0.5 2.5,0.5 2.4,0.5 2.5,0.4 2.4,0.5 2.5,0.4 2.5,0.5 2.4,0.4 2.5,0.5 2.4,0.4 2.5,0.5 2.5,0.4 2.4,0.4 2.5,0.4 2.5,0.4 2.4,0.4 2.5,0.4 2.5,0.4 2.4,0.4 2.5,0.4 2.5,0.4 2.4,0.4 2.5,0.3 2.5,0.4 2.5,0.4 2.4,0.3 2.5,0.4 2.5,0.3 2.5,0.4 2.5,0.3 2.4,0.4 2.5,0.3 2.5,0.3 2.5,0.3 2.4,0.4 2.5,0.3 2.5,0.3 2.5,0.3 2.5,0.3 2.5,0.3 2.4,0.3 2.5,0.3 2.5,0.3 2.5,0.3 2.5,0.3 2.5,0.3 2.4,0.2 2.5,0.3 2.5,0.3 2.5,0.2 2.5,0.3 2.5,0.3 2.5,0.2 2.4,0.3 2.5,0.2 2.5,0.3 2.5,0.2 2.5,0.3 2.5,0.2 2.5,0.3 2.5,0.2 2.5,0.2 2.4,0.3 2.5,0.2 2.5,0.2 2.5,0.3 2.5,0.2 2.5,0.2 2.5,0.2 2.5,0.2 2.5,0.3 2.5,0.2 2.5,0.2 2.4,0.2 2.5,0.2 2.5,0.2 2.5,0.2 2.5,0.2 2.5,0.2 2.5,0.2 2.5,0.2 2.5,0.2 2.5,0.2 2.5,0.2 2.5,0.2 2.5,0.2 2.4,0.2 2.5,0.2 2.5,0.2 2.5,0.2 2.5,0.2 2.5,0.2 2.5,0.1 2.5,0.2 2.5,0.2 2.5,0.2 2.5,0.2 2.5,0.2 2.5,0.2 2.5,0.1 2.5,0.2 2.5,0.2 2.4,0.2 2.5,0.2 2.5,0.2 2.5,0.2 2.5,0.1 2.5,0.2 2.5,0.2 2.5,0.2 2.5,0.2 2.5,0.2 2.5,0.2 2.5,0.1 2.5,0.2 2.5,0.2 2.5,0.2 2.5,0.2 2.4,0.2 2.5,0.2 2.5,0.2 2.5,0.2 2.5,0.2 2.5,0.1 2.5,0.2 2.5,0.2 2.5,0.2 2.5,0.2 2.5,0.2 2.5,0.2 2.5,0.2 2.5,0.3 2.4,0.2 2.5,0.2 2.5,0.2 2.5,0.2 2.5,0.2 2.5,0.2 2.5,0.2 2.5,0.2 2.5,0.3 2.5,0.2 2.5,0.2 2.4,0.2 2.5,0.2 2.5,0.3 2.5,0.2 2.5,0.2 2.5,0.2 2.5,0.3 2.5,0.2 2.5,0.2 2.5,0.2 2.5,0.3 2.4,0.2 2.5,0.2 2.5,0.2 2.5,0.3 2.5,0.2 2.5,0.2 2.5,0.3 2.5,0.2 2.5,0.2 2.5,0.2 2.4,0.3 2.5,0.2 2.5,0.2 2.5,0.3 2.5,0.2 2.5,0.2 2.5,0.2 2.5,0.3 2.5,0.2 2.5,0.2 2.4,0.2 2.5,0.3 2.5,0.2 2.5,0.2 2.5,0.2 2.5,0.3 2.5,0.2 2.5,0.2 2.5,0.2 2.5,0.2 2.5,0.2 2.5,0.3 2.4,0.2 2.5,0.2 2.5,0.2 2.5,0.2 2.5,0.2 2.5,0.2 2.5,0.2 2.5,0.2 2.5,0.2 2.5,0.2 2.5,0.2 2.5,0.2 2.4,0.2 2.5,0.2 2.5,0.2 2.5,0.2 2.5,0.2 2.5,0.2 2.5,0.1 2.5,0.2 2.5,0.2 2.5,0.2 2.5,0.2 2.5,0.2 2.5,0.2 2.5,0.1 2.5,0.2 2.5,0.2 2.4,0.2 2.5,0.2 2.5,0.3 2.5,0.2 2.5,0.2 2.5,0.2 2.5,0.2 2.5,0.3 2.5,0.2 2.5,0.3 2.4,0.2 2.5,0.3 2.5,0.3 2.5,0.3 2.5,0.3 2.5,0.3 2.4,0.3 2.5,0.3 2.5,0.4 2.5,0.3 2.5,0.4 2.4,0.3 2.5,0.4 2.5,0.4 2.4,0.5 2.5,0.4 2.5,0.4 2.4,0.5 2.5,0.5 2.4,0.5 2.5,0.5 2.4,0.5 2.4,0.6 2.5,0.5 2.4,0.6 2.4,0.6 2.5,0.6 2.4,0.7 2.4,0.6 2.4,0.7 2.4,0.7 2.4,0.7 2.4,0.7 2.4,0.7 2.4,0.7 2.4,0.7 2.4,0.7 2.4,0.7 2.4,0.6 2.4,0.7 2.4,0.7 2.5,0.6 2.4,0.6 2.4,0.6 2.5,0.6 2.4,0.5 2.5,0.5 2.4,0.4 2.5,0.5 2.4,0.3 2.5,0.4 2.5,0.3 2.5,0.3 2.5,0.2 2.5,0.3 2.5,0.2 2.5,0.1 2.5,0.2 2.4,0.1 2.5,0.1 2.5,0.1 2.5,0.1 2.5,0.1 2.5,0.1 2.5,0.1 2.5,0.1 2.5,0.1 2.5,0.1 2.5,0.2 2.5,0.1 2.5,0.1 2.5,0.1 2.5,0.1 2.5,0.2 2.5,0.1 2.5,0.2 2.5,0.1 2.5,0.1 2.5,0.2 2.5,0.2 2.5,0.1 2.5,0.2 2.5,0.2 2.5,0.1 2.5,0.2 2.5,0.2 2.5,0.2 2.5,0.2 2.4,0.2 2.5,0.2 2.5,0.2 2.5,0.3 2.5,0.2 2.5,0.2 2.5,0.2 2.5,0.3 2.5,0.2 2.5,0.3 2.4,0.2 2.5,0.3 2.5,0.3 2.5,0.3 2.5,0.3 2.5,0.2 2.4,0.3 2.5,0.3 2.5,0.4 2.5,0.3 2.5,0.3 2.4,0.3 2.5,0.4 2.5,0.3 2.5,0.4 2.5,0.3 2.4,0.4 2.5,0.4 2.5,0.3 2.4,0.4 2.5,0.4 2.5,0.4 2.4,0.4 2.5,0.4 2.5,0.5 2.4,0.4 2.5,0.4 2.5,0.5 2.4,0.4 2.5,0.5 2.4,0.4 2.5,0.5 2.5,0.4 2.4,0.5 2.5,0.5 2.4,0.5 2.5,0.4 2.4,0.5 2.5,0.5 2.4,0.5 2.5,0.5 2.4,0.5 2.5,0.6 2.4,0.5 2.5,0.5 2.4,0.5 2.5,0.5 2.4,0.6 2.4,0.5 2.5,0.5 2.4,0.6 2.5,0.5 2.4,0.6 2.5,0.5 2.4,0.6 2.4,0.5 2.5,0.6 2.4,0.5 2.4,0.6 2.5,0.5 2.4,0.6 2.5,0.6 2.4,0.5 2.4,0.6 2.5,0.6 2.4,0.5 2.4,0.6 2.5,0.6 2.4,0.5 2.4,0.6 2.5,0.6 2.4,0.6 2.4,0.5 2.5,0.6 2.4,0.6 2.4,0.5 2.5,0.6 2.4,0.6 2.4,0.6 2.5,0.5 2.4,0.6 2.5,0.6 2.4,0.5 2.4,0.6 2.5,0.6 2.4,0.5 2.4,0.6 2.5,0.6 2.4,0.5 2.4,0.6 2.5,0.5 2.4,0.6 2.5,0.5 2.4,0.6 2.4,0.5 2.5,0.6 2.4,0.5 2.5,0.6 2.4,0.5 2.5,0.5 2.4,0.5 2.4,0.6 2.5,0.5 2.4,0.5 2.5,0.5 2.4,0.5 2.5,0.5 2.4,0.5 2.5,0.5 2.4,0.5 2.5,0.5 2.4,0.5 2.5,0.5 2.4,0.5 2.5,0.4 2.5,0.5 2.4,0.4 2.5,0.5 2.4,0.4 2.5,0.5 2.5,0.4 2.4,0.5 2.5,0.4 2.5,0.4 2.4,0.4 2.5,0.4 2.5,0.4 2.4,0.4 2.5,0.4 2.5,0.4 2.4,0.3 2.5,0.4 2.5,0.3 2.5,0.4 2.4,0.3 2.5,0.4 2.5,0.3 2.5,0.3 2.5,0.3 2.5,0.3 2.4,0.3 2.5,0.3 2.5,0.2 2.5,0.3 2.5,0.3 2.5,0.2 2.5,0.3 2.4,0.2 2.5,0.2 2.5,0.2 2.5,0.2 2.5,0.2 2.5,0.2 2.5,0.1 2.5,0.2 2.5,0.1 2.5,0.2 2.5,0.1 2.5,0.1 2.5,0.1 2.5,0.1 2.5,0.1 2.5,0.1 2.5,0.1 2.5,0 2.5,0 2.5,0.1" fill="none" stroke="#000000" stroke-width="11.2" stroke-linejoin="round" stroke-linecap="butt"/>
<path d="M225.6,144.2l2.3,1.2 2.2,1.2 2.1,1.3 2.1,1.3 2.1,1.3 2.1,1.5 2,1.4 2,1.6 1.9,1.5 1.9,1.6 1.9,1.7 1.8,1.7 1.8,1.8 1.8,1.8 1.7,1.8 1.6,1.8 1.7,1.9 1.5,2 1.6,1.9 1.5,2 1.5,2.1 1.4,2 1.4,2.1 1.4,2.1 1.3,2.1 1.3,2.1 1.2,2.2 1.3,2.2 1.2,2.2 1.1,2.2 1.1,2.2 1.2,2.3 1,2.2 1.1,2.3 1,2.3 1,2.3 1,2.3 0.9,2.3 1,2.3 0.9,2.3 0.9,2.4 0.9,2.3 0.8,2.3 0.9,2.4 0.8,2.4 0.8,2.3 0.8,2.4 0.8,2.4 0.8,2.3 0.7,2.4 0.8,2.4 0.7,2.4 0.8,2.4 0.7,2.4 0.7,2.4 0.7,2.4 0.7,2.4 0.7,2.4 0.7,2.4 0.7,2.4 0.7,2.4 0.6,2.4 0.7,2.4 0.7,2.4 0.6,2.4 0.6,2.4 0.7,2.5 0.6,2.4 0.6,2.4 0.6,2.4 0.6,2.5 0.6,2.4 0.6,2.4 0.5,2.5 0.6,2.4 0.6,2.4 0.5,2.5 0.5,2.4 0.6,2.5 0.5,2.4 0.5,2.5 0.5,2.4 0.5,2.4 0.5,2.5 0.5,2.5 0.5,2.4 0.5,2.5 0.4,2.4 0.5,2.5 0.4,2.4 0.5,2.5 0.4,2.5 0.5,2.4 0.5,2.5 0.4,2.4 0.5,2.5 0.5,2.4 0.5,2.5 0.5,2.4 0.5,2.5 0.6,2.4 0.6,2.4 0.6,2.5 0.6,2.4 0.7,2.4 0.6,2.4 0.8,2.4 0.7,2.4 0.8,2.3 0.9,2.4 0.9,2.3 0.9,2.3 1,2.3 1,2.3 1.1,2.3 1.2,2.2 1.2,2.2 1.3,2.1 1.3,2.1 1.4,2.1 1.5,2 1.5,2 1.5,2 1.6,1.9 1.7,1.9 1.7,1.8 1.7,1.9 1.7,1.7 1.8,1.8 1.8,1.7 1.9,1.7 1.8,1.7 1.9,1.7 1.9,1.6 1.9,1.6 1.9,1.6 1.9,1.6 2,1.6 1.9,1.6 2,1.5 1.9,1.6 2,1.5 1.9,1.6 2,1.5 1.9,1.6 2,1.5 2,1.6 1.9,1.5 2,1.6 2,1.5 1.9,1.6 2,1.5 2,1.5 2,1.6 1.9,1.5 2,1.5 2,1.5 2,1.5 2,1.5 2,1.6 2,1.5 2,1.4 2,1.5 2,1.5 2,1.5 2.1,1.5 2,1.4 2,1.5 2.1,1.4 2,1.5 2,1.4 2.1,1.5 2.1,1.4 2,1.4 2.1,1.4 2.1,1.4 2,1.4 2.1,1.4 2.1,1.4 2.1,1.3 2.1,1.4 2.1,1.4 2.1,1.3 2.1,1.4 2,1.4 2.1,1.3 2.1,1.4 2.1,1.4 2.1,1.3 2.1,1.4 2.1,1.4 2.1,1.3 2.1,1.4 2.1,1.4 2.1,1.4 2,1.4 2.1,1.4 2.1,1.4 2,1.4 2.1,1.4 2,1.5 2.1,1.4 2,1.4 2,1.5 2.1,1.5 2,1.5 2,1.5 2,1.5 1.9,1.5 2,1.6 2,1.5 1.9,1.6 1.9,1.6 2,1.5 1.9,1.6 2,1.6 1.9,1.6 1.9,1.5 2,1.6 2,1.5 2,1.6 2,1.5 2,1.4 2,1.5 2.1,1.4 2.1,1.4 2.1,1.3 2.1,1.3 2.2,1.3 2.1,1.2 2.2,1.2 2.2,1.2 2.3,1.1 2.2,1.2 2.3,1.1 2.2,1 2.3,1 2.3,1.1 2.3,0.9 2.3,1 2.3,0.9 2.3,0.9 2.4,0.9 2.3,0.9 2.4,0.8 2.3,0.8 2.4,0.8 2.4,0.8 2.4,0.8 2.3,0.7 2.4,0.8 2.4,0.7 2.4,0.7 2.4,0.7 2.4,0.7 2.4,0.7 2.5,0.6 2.4,0.7 2.4,0.6 2.4,0.6 2.4,0.7 2.4,0.6 2.5,0.6 2.4,0.6 2.4,0.6 2.4,0.6 2.5,0.6 2.4,0.6 2.4,0.6 2.5,0.5 2.4,0.6 2.4,0.6 2.5,0.5 2.4,0.6 2.5,0.5 2.4,0.5 2.5,0.6 2.4,0.5 2.4,0.5 2.5,0.5 2.4,0.5 2.5,0.5 2.4,0.5 2.5,0.5 2.5,0.5 2.4,0.4 2.5,0.5 2.4,0.5 2.5,0.4 2.4,0.5 2.5,0.4 2.5,0.5 2.4,0.4 2.5,0.4 2.4,0.5 2.5,0.4 2.5,0.4 2.4,0.4 2.5,0.4 2.5,0.4 2.4,0.4 2.5,0.4 2.5,0.4 2.5,0.4 2.4,0.3 2.5,0.4 2.5,0.4 2.4,0.3 2.5,0.4 2.5,0.4 2.5,0.3 2.4,0.4 2.5,0.3 2.5,0.3 2.5,0.4 2.5,0.3 2.4,0.3 2.5,0.4 2.5,0.3 2.5,0.3 2.5,0.3 2.4,0.3 2.5,0.3 2.5,0.3 2.5,0.3 2.5,0.3 2.5,0.3 2.4,0.3 2.5,0.3 2.5,0.2 2.5,0.3 2.5,0.3 2.5,0.3 2.4,0.2 2.5,0.3 2.5,0.3 2.5,0.2 2.5,0.3 2.5,0.2 2.5,0.3 2.5,0.2 2.4,0.3 2.5,0.2 2.5,0.3 2.5,0.2 2.5,0.2 2.5,0.3 2.5,0.2 2.5,0.2 2.5,0.3 2.4,0.2 2.5,0.2 2.5,0.2 2.5,0.3 2.5,0.2 2.5,0.2 2.5,0.2 2.5,0.2 2.5,0.2 2.5,0.2 2.5,0.2 2.4,0.2 2.5,0.3 2.5,0.2 2.5,0.2 2.5,0.2 2.5,0.2 2.5,0.2 2.5,0.2 2.5,0.1 2.5,0.2 2.5,0.2 2.5,0.2 2.5,0.2 2.4,0.2 2.5,0.2 2.5,0.2 2.5,0.2 2.5,0.2 2.5,0.2 2.5,0.2 2.5,0.1 2.5,0.2 2.5,0.2 2.5,0.2 2.5,0.2 2.5,0.2 2.5,0.2 2.5,0.2 2.4,0.1 2.5,0.2 2.5,0.2 2.5,0.2 2.5,0.2 2.5,0.2 2.5,0.2 2.5,0.2 2.5,0.2 2.5,0.1 2.5,0.2 2.5,0.2 2.5,0.2 2.5,0.2 2.4,0.2 2.5,0.2 2.5,0.2 2.5,0.2 2.5,0.2 2.5,0.2 2.5,0.2 2.5,0.2 2.5,0.2 2.5,0.2 2.5,0.2 2.5,0.2 2.5,0.2 2.4,0.2 2.5,0.2 2.5,0.2 2.5,0.2 2.5,0.3 2.5,0.2 2.5,0.2 2.5,0.2 2.5,0.2 2.5,0.2 2.5,0.2 2.4,0.3 2.5,0.2 2.5,0.2 2.5,0.2 2.5,0.2 2.5,0.2 2.5,0.3 2.5,0.2 2.5,0.2 2.5,0.2 2.5,0.3 2.4,0.2 2.5,0.2 2.5,0.2 2.5,0.2 2.5,0.3 2.5,0.2 2.5,0.2 2.5,0.2 2.5,0.3 2.5,0.2 2.4,0.2 2.5,0.2 2.5,0.3 2.5,0.2 2.5,0.2 2.5,0.2 2.5,0.3 2.5,0.2 2.5,0.2 2.5,0.2 2.5,0.2 2.4,0.3 2.5,0.2 2.5,0.2 2.5,0.2 2.5,0.3 2.5,0.2 2.5,0.2 2.5,0.2 2.5,0.2 2.5,0.3 2.4,0.2 2.5,0.2 2.5,0.2 2.5,0.2 2.5,0.2 2.5,0.3 2.5,0.2 2.5,0.2 2.5,0.2 2.5,0.2 2.5,0.2 2.4,0.2 2.5,0.3 2.5,0.2 2.5,0.2 2.5,0.2 2.5,0.2 2.5,0.2 2.5,0.2 2.5,0.2 2.5,0.3 2.5,0.2 2.4,0.2 2.5,0.3 2.5,0.2 2.5,0.2 2.5,0.3 2.5,0.2 2.5,0.3 2.5,0.2 2.4,0.3 2.5,0.3 2.5,0.3 2.5,0.2 2.5,0.3 2.5,0.3 2.4,0.4 2.5,0.3 2.5,0.3 2.5,0.3 2.5,0.4 2.4,0.4 2.5,0.3 2.5,0.4 2.4,0.4 2.5,0.4 2.5,0.4 2.4,0.5 2.5,0.4 2.5,0.5 2.4,0.4 2.5,0.5 2.4,0.5 2.5,0.5 2.4,0.5 2.5,0.6 2.4,0.5 2.4,0.6 2.5,0.6 2.4,0.6 2.4,0.6 2.4,0.7 2.4,0.6 2.4,0.7 2.4,0.7 2.4,0.7 2.4,0.7 2.4,0.7 2.4,0.7 2.5,0.7 2.4,0.7 2.4,0.6 2.4,0.7 2.4,0.7 2.4,0.7 2.4,0.6 2.4,0.6 2.4,0.7 2.5,0.6 2.4,0.5 2.4,0.6 2.5,0.5 2.4,0.5 2.5,0.4 2.5,0.5 2.4,0.3 2.5,0.4 2.5,0.3 2.5,0.3 2.5,0.3 2.4,0.2 2.5,0.2 2.5,0.2 2.5,0.2 2.5,0.2 2.5,0.1 2.5,0.2 2.5,0.2 2.5,0.1 2.5,0.2 2.5,0.1 2.5,0.2 2.5,0.2 2.5,0.2 2.5,0.1 2.5,0.2 2.5,0.2 2.4,0.1 2.5,0.2 2.5,0.2 2.5,0.2 2.5,0.2 2.5,0.2 2.5,0.2 2.5,0.2 2.5,0.2 2.5,0.2 2.5,0.2 2.5,0.2 2.5,0.2 2.4,0.2 2.5,0.2 2.5,0.3 2.5,0.2 2.5,0.2 2.5,0.3 2.5,0.2 2.5,0.2 2.5,0.3 2.4,0.3 2.5,0.2 2.5,0.3 2.5,0.3 2.5,0.2 2.5,0.3 2.5,0.3 2.4,0.3 2.5,0.3 2.5,0.3 2.5,0.3 2.5,0.3 2.4,0.3 2.5,0.4 2.5,0.3 2.5,0.4 2.5,0.3 2.4,0.4 2.5,0.3 2.5,0.4 2.4,0.4 2.5,0.4 2.5,0.4 2.5,0.4 2.4,0.4 2.5,0.4 2.5,0.4 2.4,0.4 2.5,0.4 2.4,0.5 2.5,0.4 2.5,0.5 2.4,0.4 2.5,0.5 2.4,0.4 2.5,0.5 2.4,0.5 2.5,0.5 2.4,0.5 2.5,0.4 2.5,0.5 2.4,0.5 2.4,0.5 2.5,0.6 2.4,0.5 2.5,0.5 2.4,0.5 2.5,0.5 2.4,0.6 2.5,0.5 2.4,0.5 2.4,0.6 2.5,0.5 2.4,0.6 2.5,0.5 2.4,0.6 2.4,0.5 2.5,0.6 2.4,0.6 2.5,0.5 2.4,0.6 2.4,0.6 2.5,0.5 2.4,0.6 2.4,0.6 2.5,0.6 2.4,0.5 2.4,0.6 2.4,0.6 2.5,0.6 2.4,0.6 2.4,0.6 2.5,0.6 2.4,0.6 2.4,0.5 2.5,0.6 2.4,0.6 2.4,0.6 2.4,0.6 2.5,0.6 2.4,0.6 2.4,0.6 2.5,0.6 2.4,0.6 2.4,0.6 2.4,0.6 2.5,0.6 2.4,0.6 2.4,0.6 2.5,0.6 2.4,0.6 2.4,0.6 2.4,0.6 2.5,0.5 2.4,0.6 2.4,0.6 2.5,0.6 2.4,0.6 2.4,0.6 2.5,0.6 2.4,0.5 2.4,0.6 2.4,0.6 2.5,0.6 2.4,0.5 2.4,0.6 2.5,0.6 2.4,0.5 2.5,0.6 2.4,0.6 2.4,0.5 2.5,0.6 2.4,0.5 2.4,0.6 2.5,0.5 2.4,0.6 2.5,0.5 2.4,0.5 2.5,0.6 2.4,0.5 2.4,0.5 2.5,0.5 2.4,0.5 2.5,0.5 2.4,0.5 2.5,0.5 2.4,0.5 2.5,0.5 2.4,0.5 2.5,0.5 2.5,0.5 2.4,0.4 2.5,0.5 2.4,0.5 2.5,0.4 2.4,0.5 2.5,0.4 2.5,0.4 2.4,0.5 2.5,0.4 2.5,0.4 2.4,0.4 2.5,0.4 2.5,0.4 2.4,0.4 2.5,0.4 2.5,0.4 2.4,0.3 2.5,0.4 2.5,0.4 2.5,0.3 2.4,0.4 2.5,0.3 2.5,0.3 2.5,0.3 2.5,0.3 2.4,0.3 2.5,0.3 2.5,0.3 2.5,0.3 2.5,0.3 2.5,0.2 2.5,0.3 2.4,0.2 2.5,0.3 2.5,0.2 2.5,0.2 2.5,0.2 2.5,0.2 2.5,0.2" fill="none" stroke="#ff0000" stroke-width="11.2" stroke-linejoin="round" stroke-linecap="butt"/>
<path d="M225.5,142.6l2.2,1.1 2.2,1.1 2.2,1.2 2.2,1.3 2.1,1.3 2.1,1.4 2.1,1.4 2,1.5 2,1.5 1.9,1.6 1.9,1.6 1.8,1.7 1.9,1.7 1.7,1.8 1.7,1.8 1.7,1.9 1.7,1.8 1.6,2 1.5,1.9 1.6,2 1.4,2 1.5,2.1 1.4,2 1.4,2.1 1.3,2.1 1.3,2.2 1.2,2.1 1.3,2.2 1.2,2.2 1.1,2.2 1.2,2.3 1.1,2.2 1.1,2.3 1,2.2 1,2.3 1,2.3 1,2.3 1,2.3 0.9,2.3 0.9,2.3 0.9,2.4 0.9,2.3 0.9,2.4 0.8,2.3 0.9,2.4 0.8,2.3 0.8,2.4 0.8,2.4 0.8,2.3 0.8,2.4 0.8,2.4 0.7,2.4 0.8,2.4 0.7,2.3 0.8,2.4 0.7,2.4 0.8,2.4 0.7,2.4 0.8,2.4 0.7,2.4 0.7,2.4 0.7,2.4 0.7,2.4 0.7,2.4 0.7,2.4 0.7,2.4 0.7,2.4 0.7,2.4 0.6,2.4 0.7,2.4 0.6,2.4 0.7,2.4 0.6,2.5 0.6,2.4 0.6,2.4 0.6,2.4 0.6,2.5 0.6,2.4 0.5,2.4 0.6,2.5 0.5,2.4 0.6,2.5 0.5,2.4 0.5,2.4 0.5,2.5 0.5,2.5 0.5,2.4 0.4,2.5 0.5,2.4 0.5,2.5 0.4,2.4 0.4,2.5 0.5,2.5 0.4,2.4 0.5,2.5 0.4,2.4 0.5,2.5 0.5,2.5 0.5,2.4 0.5,2.4 0.6,2.5 0.5,2.4 0.6,2.5 0.6,2.4 0.7,2.4 0.7,2.4 0.7,2.4 0.8,2.4 0.8,2.3 0.9,2.4 1,2.3 1,2.3 1,2.2 1.1,2.3 1.2,2.2 1.2,2.1 1.4,2.2 1.4,2 1.4,2.1 1.6,1.9 1.6,2 1.6,1.8 1.7,1.9 1.8,1.7 1.8,1.8 1.8,1.7 1.9,1.6 1.9,1.7 1.9,1.6 1.9,1.6 2,1.5 2,1.6 1.9,1.5 2,1.5 2,1.5 2,1.5 2,1.5 2,1.5 2,1.5 2,1.5 2,1.6 2,1.5 1.9,1.5 2,1.6 1.9,1.6 2,1.5 1.9,1.6 1.9,1.6 2,1.6 1.9,1.6 1.9,1.6 1.9,1.6 2,1.6 1.9,1.6 1.9,1.6 1.9,1.6 2,1.6 1.9,1.6 1.9,1.6 2,1.5 1.9,1.6 2,1.6 1.9,1.5 2,1.6 2,1.5 2,1.5 2,1.5 2,1.5 2,1.4 2.1,1.5 2,1.4 2.1,1.4 2.1,1.4 2.1,1.3 2.1,1.4 2.1,1.3 2.1,1.3 2.2,1.3 2.1,1.3 2.1,1.3 2.2,1.3 2.2,1.2 2.1,1.3 2.2,1.3 2.2,1.2 2.1,1.3 2.2,1.2 2.1,1.3 2.2,1.2 2.2,1.3 2.1,1.2 2.2,1.3 2.1,1.3 2.2,1.3 2.1,1.3 2.1,1.3 2.1,1.3 2.2,1.4 2.1,1.3 2,1.4 2.1,1.4 2.1,1.4 2,1.5 2,1.5 2,1.4 2,1.6 2,1.5 1.9,1.6 2,1.6 1.9,1.6 1.9,1.6 1.8,1.7 1.9,1.6 1.9,1.7 1.9,1.7 1.8,1.6 1.9,1.7 1.9,1.6 1.9,1.6 2,1.6 1.9,1.5 2,1.5 2,1.5 2.1,1.4 2.1,1.4 2.1,1.4 2.1,1.3 2.1,1.3 2.2,1.3 2.2,1.2 2.2,1.2 2.2,1.1 2.2,1.1 2.3,1.1 2.2,1.1 2.3,1 2.3,1 2.3,1 2.3,0.9 2.4,0.9 2.3,0.9 2.4,0.9 2.3,0.8 2.4,0.8 2.3,0.9 2.4,0.7 2.4,0.8 2.4,0.7 2.4,0.8 2.4,0.7 2.4,0.7 2.4,0.7 2.4,0.7 2.4,0.6 2.4,0.7 2.4,0.6 2.4,0.7 2.5,0.6 2.4,0.6 2.4,0.7 2.4,0.6 2.4,0.6 2.5,0.6 2.4,0.6 2.4,0.6 2.5,0.6 2.4,0.6 2.4,0.6 2.4,0.5 2.5,0.6 2.4,0.6 2.5,0.5 2.4,0.6 2.4,0.5 2.5,0.6 2.4,0.5 2.5,0.5 2.4,0.5 2.5,0.6 2.4,0.5 2.5,0.5 2.4,0.5 2.5,0.5 2.4,0.5 2.5,0.5 2.4,0.5 2.5,0.4 2.4,0.5 2.5,0.5 2.4,0.5 2.5,0.4 2.4,0.5 2.5,0.4 2.5,0.5 2.4,0.4 2.5,0.4 2.5,0.5 2.4,0.4 2.5,0.4 2.4,0.5 2.5,0.4 2.5,0.4 2.4,0.4 2.5,0.4 2.5,0.4 2.5,0.4 2.4,0.4 2.5,0.4 2.5,0.3 2.4,0.4 2.5,0.4 2.5,0.4 2.5,0.3 2.4,0.4 2.5,0.3 2.5,0.4 2.5,0.3 2.4,0.4 2.5,0.3 2.5,0.4 2.5,0.3 2.4,0.3 2.5,0.4 2.5,0.3 2.5,0.3 2.5,0.3 2.4,0.4 2.5,0.3 2.5,0.3 2.5,0.3 2.5,0.3 2.5,0.3 2.4,0.3 2.5,0.3 2.5,0.3 2.5,0.2 2.5,0.3 2.5,0.3 2.4,0.3 2.5,0.3 2.5,0.2 2.5,0.3 2.5,0.3 2.5,0.2 2.5,0.3 2.4,0.3 2.5,0.2 2.5,0.3 2.5,0.2 2.5,0.3 2.5,0.2 2.5,0.3 2.5,0.2 2.5,0.2 2.4,0.3 2.5,0.2 2.5,0.2 2.5,0.3 2.5,0.2 2.5,0.2 2.5,0.3 2.5,0.2 2.5,0.2 2.5,0.2 2.4,0.2 2.5,0.2 2.5,0.3 2.5,0.2 2.5,0.2 2.5,0.2 2.5,0.2 2.5,0.2 2.5,0.2 2.5,0.2 2.5,0.2 2.5,0.2 2.5,0.2 2.4,0.2 2.5,0.2 2.5,0.2 2.5,0.2 2.5,0.2 2.5,0.2 2.5,0.1 2.5,0.2 2.5,0.2 2.5,0.2 2.5,0.2 2.5,0.2 2.5,0.2 2.5,0.1 2.5,0.2 2.4,0.2 2.5,0.2 2.5,0.2 2.5,0.1 2.5,0.2 2.5,0.2 2.5,0.2 2.5,0.2 2.5,0.1 2.5,0.2 2.5,0.2 2.5,0.2 2.5,0.1 2.5,0.2 2.5,0.2 2.5,0.2 2.5,0.1 2.5,0.2 2.4,0.2 2.5,0.1 2.5,0.2 2.5,0.2 2.5,0.2 2.5,0.1 2.5,0.2 2.5,0.2 2.5,0.2 2.5,0.1 2.5,0.2 2.5,0.2 2.5,0.2 2.5,0.1 2.5,0.2 2.5,0.2 2.5,0.2 2.5,0.2 2.4,0.1 2.5,0.2 2.5,0.2 2.5,0.2 2.5,0.2 2.5,0.2 2.5,0.1 2.5,0.2 2.5,0.2 2.5,0.2 2.5,0.2 2.5,0.2 2.5,0.2 2.5,0.2 2.5,0.2 2.5,0.2 2.4,0.2 2.5,0.2 2.5,0.2 2.5,0.2 2.5,0.2 2.5,0.2 2.5,0.2 2.5,0.2 2.5,0.2 2.5,0.2 2.5,0.3 2.5,0.2 2.4,0.2 2.5,0.2 2.5,0.3 2.5,0.2 2.5,0.2 2.5,0.2 2.5,0.3 2.5,0.2 2.5,0.2 2.5,0.3 2.4,0.2 2.5,0.3 2.5,0.2 2.5,0.3 2.5,0.2 2.5,0.3 2.5,0.3 2.5,0.2 2.4,0.3 2.5,0.2 2.5,0.3 2.5,0.3 2.5,0.3 2.5,0.2 2.5,0.3 2.4,0.3 2.5,0.3 2.5,0.3 2.5,0.3 2.5,0.3 2.5,0.3 2.4,0.3 2.5,0.3 2.5,0.3 2.5,0.3 2.5,0.4 2.4,0.3 2.5,0.3 2.5,0.4 2.5,0.3 2.5,0.3 2.4,0.4 2.5,0.3 2.5,0.4 2.5,0.3 2.4,0.4 2.5,0.3 2.5,0.4 2.5,0.4 2.4,0.4 2.5,0.3 2.5,0.4 2.4,0.4 2.5,0.4 2.5,0.4 2.4,0.4 2.5,0.4 2.5,0.4 2.4,0.4 2.5,0.5 2.5,0.4 2.4,0.4 2.5,0.5 2.5,0.4 2.4,0.4 2.5,0.5 2.4,0.4 2.5,0.5 2.5,0.5 2.4,0.4 2.5,0.5 2.4,0.5 2.5,0.5 2.4,0.5 2.5,0.5 2.4,0.5 2.5,0.5 2.4,0.5 2.5,0.6 2.4,0.5 2.4,0.6 2.5,0.6 2.4,0.6 2.4,0.6 2.4,0.6 2.4,0.7 2.5,0.6 2.4,0.7 2.4,0.7 2.3,0.8 2.4,0.7 2.4,0.8 2.4,0.8 2.4,0.7 2.4,0.7 2.4,0.7 2.4,0.6 2.5,0.5 2.4,0.4 2.5,0.3 2.5,0.3 2.5,0.2 2.5,0.2 2.5,0.2 2.5,0.1 2.5,0.1 2.5,0.1 2.5,0.1 2.5,0 2.5,0.1 2.5,0.1 2.5,0.1 2.5,0.1 2.5,0.1 2.5,0.1 2.5,0.1 2.5,0.1 2.5,0.1 2.5,0.1 2.4,0.2 2.5,0.1 2.5,0.2 2.5,0.1 2.5,0.2 2.5,0.1 2.5,0.2 2.5,0.2 2.5,0.2 2.5,0.2 2.5,0.1 2.5,0.2 2.5,0.3 2.5,0.2 2.5,0.2 2.5,0.2 2.4,0.2 2.5,0.3 2.5,0.2 2.5,0.3 2.5,0.2 2.5,0.3 2.5,0.3 2.5,0.3 2.4,0.3 2.5,0.3 2.5,0.3 2.5,0.3 2.5,0.3 2.4,0.3 2.5,0.3 2.5,0.4 2.5,0.3 2.5,0.4 2.4,0.3 2.5,0.4 2.5,0.4 2.4,0.4 2.5,0.4 2.5,0.4 2.4,0.4 2.5,0.4 2.5,0.4 2.4,0.5 2.5,0.4 2.5,0.5 2.4,0.4 2.5,0.5 2.4,0.4 2.5,0.5 2.4,0.5 2.5,0.5 2.4,0.5 2.5,0.5 2.4,0.5 2.5,0.5 2.4,0.5 2.5,0.6 2.4,0.5 2.5,0.6 2.4,0.5 2.4,0.6 2.5,0.5 2.4,0.6 2.4,0.5 2.5,0.6 2.4,0.6 2.4,0.6 2.5,0.6 2.4,0.6 2.4,0.6 2.5,0.6 2.4,0.6 2.4,0.6 2.4,0.6 2.5,0.6 2.4,0.6 2.4,0.7 2.4,0.6 2.4,0.6 2.5,0.7 2.4,0.6 2.4,0.6 2.4,0.7 2.4,0.6 2.4,0.7 2.5,0.6 2.4,0.7 2.4,0.7 2.4,0.6 2.4,0.7 2.4,0.7 2.4,0.6 2.4,0.7 2.4,0.7 2.4,0.6 2.5,0.7 2.4,0.7 2.4,0.7 2.4,0.6 2.4,0.7 2.4,0.7 2.4,0.7 2.4,0.7 2.4,0.6 2.4,0.7 2.4,0.7 2.4,0.7 2.4,0.7 2.4,0.7 2.4,0.6 2.4,0.7 2.4,0.7 2.5,0.7 2.4,0.7 2.4,0.7 2.4,0.6 2.4,0.7 2.4,0.7 2.4,0.7 2.4,0.7 2.4,0.6 2.4,0.7 2.4,0.7 2.4,0.6 2.4,0.7 2.5,0.7 2.4,0.6 2.4,0.7 2.4,0.7 2.4,0.6 2.4,0.7 2.4,0.6 2.4,0.7 2.5,0.6 2.4,0.7 2.4,0.6 2.4,0.7 2.4,0.6 2.4,0.6 2.5,0.7 2.4,0.6 2.4,0.6 2.4,0.6 2.5,0.6 2.4,0.6 2.4,0.6 2.4,0.6 2.5,0.6 2.4,0.6 2.4,0.6 2.5,0.6 2.4,0.6 2.4,0.6 2.5,0.5 2.4,0.6 2.4,0.5 2.5,0.6 2.4,0.5 2.5,0.6 2.4,0.5 2.4,0.5 2.5,0.6 2.4,0.5 2.5,0.5 2.4,0.5 2.5,0.5 2.4,0.5 2.5,0.4 2.4,0.5 2.5,0.5 2.5,0.4 2.4,0.5 2.5,0.4 2.4,0.5 2.5,0.4 2.5,0.4 2.4,0.4 2.5,0.5 2.5,0.4 2.4,0.3 2.5,0.4 2.5,0.4 2.5,0.4 2.4,0.3 2.5,0.4 2.5,0.3 2.5,0.3 2.4,0.4 2.5,0.3 2.5,0.3 2.5,0.3" fill="none" stroke="#00ff00" stroke-width="11.2" stroke-linejoin="round" stroke-linecap="butt"/>
<path d="M225.2,143.9l2.2,1.2 2.2,1.2 2.1,1.2 2.1,1.4 2.1,1.3 2.1,1.5 2,1.4 2,1.6 1.9,1.5 2,1.7 1.8,1.6 1.9,1.7 1.7,1.8 1.8,1.8 1.7,1.8 1.7,1.9 1.6,1.9 1.6,1.9 1.5,2 1.5,2 1.5,2 1.5,2 1.4,2.1 1.3,2.1 1.3,2.1 1.3,2.2 1.3,2.1 1.2,2.2 1.2,2.2 1.2,2.2 1.1,2.2 1.1,2.3 1.1,2.2 1.1,2.3 1,2.3 1,2.3 1,2.3 0.9,2.3 1,2.3 0.9,2.3 0.9,2.4 0.9,2.3 0.8,2.4 0.9,2.3 0.8,2.4 0.8,2.3 0.8,2.4 0.8,2.4 0.8,2.4 0.7,2.4 0.8,2.3 0.7,2.4 0.8,2.4 0.7,2.4 0.7,2.4 0.7,2.4 0.8,2.4 0.7,2.4 0.6,2.4 0.7,2.4 0.7,2.4 0.7,2.4 0.6,2.5 0.7,2.4 0.6,2.4 0.7,2.4 0.6,2.4 0.6,2.4 0.6,2.5 0.6,2.4 0.6,2.4 0.6,2.5 0.6,2.4 0.6,2.4 0.6,2.5 0.5,2.4 0.6,2.4 0.6,2.5 0.5,2.4 0.5,2.5 0.6,2.4 0.5,2.5 0.5,2.4 0.5,2.4 0.5,2.5 0.5,2.4 0.5,2.5 0.5,2.5 0.5,2.4 0.5,2.5 0.5,2.4 0.5,2.5 0.5,2.4 0.5,2.5 0.5,2.4 0.5,2.5 0.5,2.4 0.6,2.5 0.5,2.4 0.6,2.4 0.7,2.5 0.6,2.4 0.7,2.4 0.6,2.4 0.8,2.4 0.7,2.4 0.8,2.3 0.9,2.4 0.9,2.3 0.9,2.3 1,2.3 1,2.3 1.1,2.3 1.1,2.2 1.3,2.2 1.2,2.2 1.3,2.1 1.4,2.1 1.5,2 1.5,2 1.5,2 1.7,1.9 1.6,1.8 1.7,1.9 1.8,1.8 1.7,1.7 1.8,1.8 1.9,1.7 1.8,1.6 1.9,1.7 1.9,1.6 1.9,1.6 2,1.6 1.9,1.6 1.9,1.6 2,1.5 2,1.6 1.9,1.5 2,1.6 2,1.5 2,1.5 1.9,1.6 2,1.5 2,1.6 1.9,1.5 2,1.6 2,1.5 1.9,1.6 2,1.5 2,1.5 1.9,1.6 2,1.5 2,1.6 2,1.5 2,1.5 1.9,1.5 2,1.5 2,1.5 2,1.5 2,1.5 2.1,1.5 2,1.5 2,1.5 2,1.4 2.1,1.5 2,1.4 2.1,1.5 2,1.4 2.1,1.4 2,1.4 2.1,1.4 2.1,1.4 2.1,1.4 2.1,1.4 2.1,1.3 2.1,1.4 2.1,1.3 2.1,1.4 2.1,1.3 2.1,1.4 2.1,1.3 2.2,1.3 2.1,1.3 2.1,1.3 2.1,1.4 2.2,1.3 2.1,1.3 2.1,1.3 2.1,1.3 2.2,1.4 2.1,1.3 2.1,1.3 2.1,1.4 2.1,1.3 2.1,1.4 2.1,1.3 2.1,1.4 2.1,1.4 2.1,1.3 2.1,1.4 2.1,1.4 2,1.4 2.1,1.5 2,1.4 2.1,1.5 2,1.4 2,1.5 2,1.5 2,1.5 2,1.5 2,1.6 1.9,1.5 2,1.5 2,1.6 2,1.5 2,1.5 2,1.5 2,1.5 2,1.5 2,1.4 2.1,1.5 2.1,1.3 2.1,1.4 2.1,1.3 2.1,1.3 2.2,1.3 2.2,1.2 2.2,1.2 2.2,1.2 2.2,1.1 2.3,1.1 2.2,1.1 2.3,1.1 2.2,1 2.3,1.1 2.3,0.9 2.3,1 2.4,0.9 2.3,1 2.3,0.9 2.4,0.8 2.3,0.9 2.4,0.8 2.3,0.8 2.4,0.8 2.4,0.8 2.4,0.8 2.4,0.7 2.3,0.8 2.4,0.7 2.4,0.7 2.4,0.7 2.5,0.7 2.4,0.7 2.4,0.6 2.4,0.7 2.4,0.6 2.4,0.7 2.4,0.6 2.5,0.6 2.4,0.7 2.4,0.6 2.4,0.6 2.5,0.6 2.4,0.6 2.4,0.5 2.5,0.6 2.4,0.6 2.4,0.5 2.5,0.6 2.4,0.6 2.5,0.5 2.4,0.5 2.5,0.6 2.4,0.5 2.5,0.5 2.4,0.5 2.5,0.5 2.4,0.5 2.5,0.5 2.4,0.5 2.5,0.4 2.4,0.5 2.5,0.5 2.4,0.4 2.5,0.5 2.5,0.4 2.4,0.5 2.5,0.4 2.5,0.4 2.4,0.5 2.5,0.4 2.5,0.4 2.4,0.4 2.5,0.4 2.5,0.4 2.4,0.4 2.5,0.4 2.5,0.4 2.5,0.3 2.4,0.4 2.5,0.4 2.5,0.3 2.5,0.4 2.4,0.4 2.5,0.3 2.5,0.3 2.5,0.4 2.4,0.3 2.5,0.3 2.5,0.4 2.5,0.3 2.5,0.3 2.5,0.3 2.4,0.3 2.5,0.3 2.5,0.3 2.5,0.3 2.5,0.3 2.5,0.3 2.4,0.3 2.5,0.3 2.5,0.2 2.5,0.3 2.5,0.3 2.5,0.3 2.5,0.2 2.5,0.3 2.4,0.2 2.5,0.3 2.5,0.2 2.5,0.3 2.5,0.2 2.5,0.3 2.5,0.2 2.5,0.2 2.5,0.3 2.5,0.2 2.4,0.2 2.5,0.3 2.5,0.2 2.5,0.2 2.5,0.2 2.5,0.2 2.5,0.2 2.5,0.3 2.5,0.2 2.5,0.2 2.5,0.2 2.5,0.2 2.5,0.2 2.5,0.2 2.5,0.2 2.4,0.2 2.5,0.2 2.5,0.2 2.5,0.2 2.5,0.1 2.5,0.2 2.5,0.2 2.5,0.2 2.5,0.2 2.5,0.2 2.5,0.2 2.5,0.1 2.5,0.2 2.5,0.2 2.5,0.2 2.5,0.2 2.5,0.1 2.5,0.2 2.5,0.2 2.5,0.2 2.4,0.1 2.5,0.2 2.5,0.2 2.5,0.2 2.5,0.1 2.5,0.2 2.5,0.2 2.5,0.2 2.5,0.1 2.5,0.2 2.5,0.2 2.5,0.2 2.5,0.1 2.5,0.2 2.5,0.2 2.5,0.2 2.5,0.1 2.5,0.2 2.5,0.2 2.5,0.2 2.5,0.2 2.5,0.1 2.5,0.2 2.5,0.2 2.4,0.2 2.5,0.2 2.5,0.2 2.5,0.1 2.5,0.2 2.5,0.2 2.5,0.2 2.5,0.2 2.5,0.2 2.5,0.2 2.5,0.2 2.5,0.2 2.5,0.2 2.5,0.2 2.5,0.2 2.5,0.2 2.5,0.2 2.4,0.2 2.5,0.2 2.5,0.2 2.5,0.3 2.5,0.2 2.5,0.2 2.5,0.2 2.5,0.2 2.5,0.2 2.5,0.2 2.5,0.3 2.5,0.2 2.5,0.2 2.5,0.2 2.4,0.3 2.5,0.2 2.5,0.2 2.5,0.2 2.5,0.2 2.5,0.3 2.5,0.2 2.5,0.2 2.5,0.2 2.5,0.3 2.5,0.2 2.5,0.2 2.4,0.3 2.5,0.2 2.5,0.2 2.5,0.2 2.5,0.3 2.5,0.2 2.5,0.2 2.5,0.2 2.5,0.3 2.5,0.2 2.5,0.2 2.5,0.2 2.4,0.3 2.5,0.2 2.5,0.2 2.5,0.2 2.5,0.3 2.5,0.2 2.5,0.2 2.5,0.2 2.5,0.3 2.5,0.2 2.5,0.2 2.5,0.2 2.4,0.2 2.5,0.2 2.5,0.3 2.5,0.2 2.5,0.2 2.5,0.2 2.5,0.2 2.5,0.2 2.5,0.2 2.5,0.2 2.5,0.2 2.5,0.2 2.5,0.2 2.5,0.2 2.5,0.2 2.4,0.2 2.5,0.2 2.5,0.2 2.5,0.2 2.5,0.2 2.5,0.2 2.5,0.2 2.5,0.2 2.5,0.2 2.5,0.3 2.5,0.2 2.5,0.2 2.5,0.2 2.5,0.2 2.5,0.3 2.4,0.2 2.5,0.3 2.5,0.2 2.5,0.3 2.5,0.2 2.5,0.3 2.5,0.3 2.5,0.3 2.4,0.3 2.5,0.3 2.5,0.3 2.5,0.3 2.5,0.3 2.4,0.4 2.5,0.4 2.5,0.3 2.5,0.4 2.4,0.4 2.5,0.4 2.5,0.4 2.4,0.5 2.5,0.4 2.5,0.5 2.4,0.5 2.5,0.5 2.4,0.5 2.5,0.5 2.4,0.5 2.4,0.6 2.5,0.6 2.4,0.6 2.4,0.6 2.5,0.6 2.4,0.6 2.4,0.7 2.4,0.7 2.4,0.7 2.4,0.7 2.4,0.7 2.4,0.7 2.4,0.7 2.4,0.7 2.4,0.7 2.4,0.7 2.4,0.6 2.4,0.7 2.4,0.7 2.5,0.6 2.4,0.6 2.4,0.6 2.5,0.6 2.4,0.5 2.5,0.5 2.4,0.5 2.5,0.5 2.4,0.4 2.5,0.3 2.5,0.4 2.5,0.3 2.5,0.3 2.4,0.3 2.5,0.2 2.5,0.2 2.5,0.2 2.5,0.2 2.5,0.2 2.5,0.2 2.5,0.1 2.5,0.2 2.5,0.2 2.5,0.1 2.5,0.2 2.5,0.1 2.5,0.2 2.5,0.2 2.5,0.1 2.5,0.2 2.5,0.2 2.5,0.1 2.5,0.2 2.5,0.2 2.5,0.1 2.4,0.2 2.5,0.2 2.5,0.2 2.5,0.2 2.5,0.2 2.5,0.2 2.5,0.1 2.5,0.2 2.5,0.3 2.5,0.2 2.5,0.2 2.5,0.2 2.5,0.2 2.5,0.2 2.5,0.3 2.4,0.2 2.5,0.2 2.5,0.3 2.5,0.2 2.5,0.3 2.5,0.3 2.5,0.2 2.5,0.3 2.5,0.3 2.4,0.3 2.5,0.3 2.5,0.3 2.5,0.3 2.5,0.3 2.5,0.3 2.4,0.3 2.5,0.4 2.5,0.3 2.5,0.4 2.4,0.3 2.5,0.4 2.5,0.4 2.5,0.3 2.4,0.4 2.5,0.4 2.5,0.5 2.4,0.4 2.5,0.4 2.5,0.4 2.4,0.5 2.5,0.4 2.5,0.5 2.4,0.5 2.5,0.4 2.4,0.5 2.5,0.5 2.4,0.5 2.5,0.5 2.4,0.5 2.5,0.5 2.4,0.5 2.5,0.6 2.4,0.5 2.5,0.5 2.4,0.6 2.4,0.5 2.5,0.6 2.4,0.6 2.5,0.5 2.4,0.6 2.4,0.6 2.5,0.6 2.4,0.6 2.4,0.6 2.4,0.6 2.5,0.6 2.4,0.6 2.4,0.6 2.4,0.6 2.5,0.6 2.4,0.7 2.4,0.6 2.4,0.6 2.4,0.7 2.5,0.6 2.4,0.7 2.4,0.6 2.4,0.7 2.4,0.6 2.4,0.7 2.5,0.6 2.4,0.7 2.4,0.7 2.4,0.6 2.4,0.7 2.4,0.7 2.4,0.7 2.4,0.6 2.4,0.7 2.4,0.7 2.4,0.7 2.5,0.7 2.4,0.7 2.4,0.7 2.4,0.6 2.4,0.7 2.4,0.7 2.4,0.7 2.4,0.7 2.4,0.7 2.4,0.7 2.4,0.7 2.4,0.7 2.4,0.7 2.4,0.7 2.4,0.7 2.4,0.7 2.4,0.7 2.4,0.7 2.4,0.7 2.4,0.6 2.4,0.7 2.4,0.7 2.4,0.7 2.4,0.7 2.5,0.7 2.4,0.7 2.4,0.7 2.4,0.7 2.4,0.6 2.4,0.7 2.4,0.7 2.4,0.7 2.4,0.6 2.4,0.7 2.4,0.7 2.4,0.6 2.5,0.7 2.4,0.7 2.4,0.6 2.4,0.7 2.4,0.6 2.4,0.7 2.5,0.6 2.4,0.7 2.4,0.6 2.4,0.6 2.4,0.7 2.5,0.6 2.4,0.6 2.4,0.6 2.4,0.6 2.5,0.6 2.4,0.6 2.4,0.6 2.4,0.6 2.5,0.6 2.4,0.6 2.4,0.6 2.5,0.5 2.4,0.6 2.5,0.6 2.4,0.5 2.4,0.6 2.5,0.5 2.4,0.6 2.5,0.5 2.4,0.5 2.5,0.5 2.4,0.5 2.5,0.5 2.4,0.5 2.5,0.5 2.4,0.5 2.5,0.5 2.4,0.5 2.5,0.4 2.5,0.5 2.4,0.4 2.5,0.5 2.4,0.4 2.5,0.4 2.5,0.4 2.5,0.4 2.4,0.4 2.5,0.4 2.5,0.4 2.4,0.3 2.5,0.4 2.5,0.4 2.5,0.3 2.5,0.3 2.4,0.4 2.5,0.3 2.5,0.3" fill="none" stroke="#0000ff" stroke-width="11.2" stroke-linejoin="round" stroke-linecap="butt"/>
</g>
<g id="dtg">
<path d="M225.8,850.1l1.2,2.2 1.1,2.2 1.1,2.3 1.1,2.2 1,2.3 1.1,2.3 0.9,2.3 1,2.3 0.9,2.3 0.9,2.4 0.9,2.3 0.8,2.3 0.9,2.4 0.8,2.4 0.8,2.3 0.7,2.4 0.8,2.4 0.7,2.4 0.7,2.4 0.7,2.4 0.7,2.4 0.7,2.4 0.7,2.4 0.7,2.4 0.6,2.4 0.7,2.4 0.6,2.5 0.6,2.4 0.7,2.4 0.6,2.4 0.6,2.5 0.6,2.4 0.5,2.4 0.6,2.5 0.6,2.4 0.6,2.4 0.5,2.5 0.6,2.4 0.5,2.4 0.6,2.5 0.5,2.4 0.5,2.5 0.5,2.4 0.5,2.5 0.5,2.4 0.5,2.5 0.5,2.4 0.5,2.5 0.5,2.4 0.5,2.5 0.5,2.4 0.5,2.5 0.4,2.4 0.5,2.5 0.5,2.5 0.4,2.4 0.5,2.5 0.4,2.4 0.5,2.5 0.4,2.4 0.5,2.5 0.4,2.5 0.4,2.4 0.5,2.5 0.4,2.5 0.4,2.4 0.5,2.5 0.4,2.4 0.4,2.5 0.5,2.5 0.4,2.4 0.4,2.5 0.5,2.5 0.4,2.4 0.4,2.5 0.4,2.5 0.4,2.4 0.5,2.5 0.4,2.4 0.4,2.5 0.4,2.5 0.4,2.4 0.4,2.5 0.5,2.5 0.4,2.4 0.4,2.5 0.4,2.5 0.4,2.4 0.4,2.5 0.4,2.5 0.4,2.5 0.4,2.4 0.4,2.5 0.4,2.5 0.4,2.4 0.4,2.5 0.4,2.5 0.4,2.4 0.4,2.5 0.4,2.5 0.3,2.4 0.4,2.5 0.4,2.5 0.4,2.5 0.4,2.4 0.4,2.5 0.3,2.5 0.4,2.4 0.4,2.5 0.4,2.5 0.3,2.5 0.4,2.4 0.4,2.5 0.3,2.5 0.4,2.5 0.4,2.4 0.3,2.5 0.4,2.5 0.3,2.5 0.4,2.4 0.4,2.5 0.3,2.5 0.4,2.5 0.3,2.4 0.4,2.5 0.3,2.5 0.4,2.5 0.3,2.4 0.4,2.5 0.3,2.5 0.3,2.5 0.4,2.4 0.3,2.5 0.4,2.5 0.3,2.5 0.3,2.4 0.4,2.5 0.3,2.5 0.3,2.5 0.4,2.5 0.3,2.4 0.3,2.5 0.4,2.5 0.3,2.5 0.3,2.5 0.4,2.4 0.3,2.5 0.3,2.5 0.3,2.5 0.4,2.5 0.3,2.4 0.3,2.5 0.3,2.5 0.4,2.5 0.3,2.4 0.3,2.5 0.3,2.5 0.3,2.5 0.4,2.5 0.3,2.4 0.3,2.5 0.3,2.5 0.3,2.5 0.4,2.5 0.3,2.4 0.3,2.5 0.3,2.5 0.3,2.5 0.3,2.5 0.4,2.5 0.3,2.4 0.3,2.5 0.3,2.5 0.3,2.5 0.3,2.5 0.4,2.4 0.3,2.5 0.3,2.5 0.3,2.5 0.3,2.5 0.3,2.4 0.4,2.5 0.3,2.5 0.3,2.5 0.3,2.5 0.3,2.4 0.3,2.5 0.3,2.5 0.3,2.5 0.3,2.5 0.3,2.4 0.3,2.5 0.3,2.5 0.3,2.5 0.3,2.5 0.3,2.5 0.3,2.4 0.3,2.5 0.4,2.5 0.3,2.5 0.3,2.5 0.3,2.4 0.4,2.5 0.3,2.5 0.4,2.5 0.4,2.4 0.4,2.5 0.5,2.5 0.4,2.4 0.5,2.5 0.5,2.4 0.5,2.5 0.5,2.4 0.6,2.5 0.9,2.3 1.5-0.9 0.7-2.4 0.6-2.4 0.5-2.5 0.4-2.4 0.4-2.5 0.3-2.5 0.3-2.5 0.2-2.4 0.2-2.5 0.2-2.5 0.1-2.5 0.2-2.5 0.1-2.5 0.1-2.5 0.1-2.5 0.1-2.5 0.1-2.5 0.1-2.5 0.1-2.5 0.1-2.5 0.1-2.5 0.1-2.5 0.1-2.5 0.1-2.5 0.1-2.5 0.1-2.5 0.1-2.5 0.1-2.5 0.1-2.5 0.1-2.5 0.1-2.5 0.1-2.5 0.1-2.5 0.1-2.5 0.1-2.5 0.1-2.5 0.2-2.5 0.1-2.5 0.1-2.5 0.1-2.5 0.1-2.5 0.1-2.5 0.1-2.5 0.1-2.5 0.1-2.5 0.1-2.5 0.2-2.5 0.1-2.5 0.1-2.5 0.1-2.5 0.1-2.5 0.1-2.5 0.1-2.5 0.1-2.5 0.1-2.5 0.2-2.5 0.1-2.4 0.1-2.5 0.1-2.5 0.1-2.5 0.1-2.5 0.1-2.5 0.1-2.5 0.1-2.5 0.1-2.5 0.2-2.5 0.1-2.5 0.1-2.5 0.1-2.5 0.1-2.5 0.1-2.5 0.1-2.5 0.1-2.5 0.1-2.5 0.1-2.5 0.1-2.5 0.1-2.5 0.1-2.5 0.1-2.5 0.1-2.5 0.1-2.5 0.1-2.5 0.1-2.5 0.1-2.5 0.1-2.5 0.1-2.5 0.1-2.5 0.1-2.5 0.1-2.5 0.1-2.5 0.1-2.5 0.1-2.5 0-2.5 0.1-2.5 0.1-2.5 0.1-2.5 0.1-2.5 0.1-2.5 0-2.5 0.1-2.5 0.1-2.5 0.1-2.5 0-2.5 0.1-2.5 0.1-2.5 0-2.5 0.1-2.5 0.1-2.5 0-2.5 0.1-2.5 0.1-2.5 0-2.5 0.1-2.5 0-2.5 0.1-2.5 0-2.5 0.1-2.5 0-2.5 0.1-2.5 0-2.5 0.1-2.5 0-2.5 0.1-2.5 0-2.5 0.1-2.5 0-2.5 0.1-2.5 0-2.5 0.1-2.5 0.1-2.5 0-2.5 0.1-2.5 0-2.5 0.1-2.5 0.1-2.5 0.1-2.5 0-2.5 0.1-2.5 0.1-2.5 0.1-2.5 0.1-2.5 0.1-2.5 0.1-2.5 0.1-2.5 0.1-2.5 0.1-2.5 0.1-2.5 0.1-2.5 0.1-2.5 0.2-2.5 0.1-2.5 0.1-2.5 0.2-2.4 0.1-2.5 0.2-2.5 0.2-2.5 0.2-2.5 0.1-2.5 0.2-2.5 0.2-2.5 0.2-2.5 0.3-2.5 0.2-2.5 0.3-2.5 0.2-2.5 0.3-2.4 0.3-2.5 0.4-2.5 0.3-2.5 0.4-2.4 0.5-2.5 0.4-2.5 0.5-2.4 0.5-2.5 0.6-2.4 0.5-2.4 0.7-2.5 0.6-2.4 0.7-2.4 0.7-2.4 0.8-2.3 0.8-2.4 0.9-2.3 0.9-2.4 1-2.3 1-2.3 1.1-2.2 1.2-2.2 1.2-2.2 1.3-2.1 1.4-2.1 1.4-2.1 1.6-1.9 1.6-1.9 1.8-1.8 1.8-1.7 1.9-1.6 2-1.5 2.1-1.3 2.2-1.2 2.3-1.1 2.3-0.9 2.4-0.7 2.4-0.6 2.5-0.6 2.4-0.5 2.5-0.4 2.4-0.5 2.5-0.5 2.4-0.6 2.4-0.7 2.4-0.9 2.2-1.1 2.2-1.2 2-1.4 2-1.6 2-1.5 2.1-1.4 2.2-1.2 2.3-0.7 2.5-0.4 2.5-0.2 2.5,0 2.5,0.1 2.5,0.1 2.5,0.2 2.5,0.3 2.5,0.4 2.4,0.3 2.5,0.4 2.5,0.5 2.4,0.4 2.5,0.5 2.4,0.5 2.5,0.5 2.4,0.4 2.5,0.5 2.5,0.4 2.4,0.4 2.5,0.4 2.5,0.4 2.4,0.3 2.5,0.4 2.5,0.4 2.5,0.4 2.4,0.4 2.5,0.4 2.5,0.4 2.4,0.4 2.5,0.5 2.4,0.4 2.5,0.5 2.4,0.6 2.5,0.6 2.4,0.6 2.4,0.6 2.4,0.7 2.4,0.8 2.4,0.7 2.3,0.9 2.4,0.9 2.3,0.8 2.4,0.8 2.4,0.6 2.5,0.3 2.5,0 2.5-0.4 2.3-0.7 2.3-1 2.1-1.4 2-1.6 1.7-1.8 1.4-2 1.2-2.2 1-2.3 0.9-2.3 1.1-2.3 1.3-2.1 1.6-1.9 1.8-1.8 1.8-1.7 1.8-1.8 1.8-1.7 1.8-1.7 1.9-1.6 1.9-1.7 2-1.5 1.9-1.6 2.1-1.4 2-1.5 2.1-1.3 2.1-1.4 2.2-1.2 2.1-1.3 2.2-1.1 2.3-1.2 2.2-1.1 2.3-1 2.3-1 2.3-1 2.3-0.9 2.4-0.9 2.3-0.8 2.4-0.8 2.4-0.7 2.4-0.8 2.4-0.7 2.4-0.6 2.4-0.6 2.4-0.6 2.5-0.6 2.4-0.6 2.5-0.5 2.4-0.5 2.5-0.5 2.4-0.4 2.5-0.5 2.5-0.4 2.4-0.4 2.5-0.4 2.5-0.4 2.4-0.3 2.5-0.4 2.5-0.4 2.5-0.3 2.4-0.3 2.5-0.4 2.5-0.3 2.5-0.3 2.5-0.3 2.4-0.3 2.5-0.3 2.5-0.2 2.5-0.3 2.5-0.3 2.5-0.2 2.5-0.3 2.4-0.2 2.5-0.3 2.5-0.2 2.5-0.2 2.5-0.3 2.5-0.2 2.5-0.2 2.5-0.2 2.5-0.2 2.5-0.3 2.5-0.2 2.4-0.2 2.5-0.2 2.5-0.2 2.5-0.2 2.5-0.2 2.5-0.2 2.5-0.2 2.5-0.2 2.5-0.2 2.5-0.2 2.5-0.2 2.5-0.1 2.5-0.2 2.5-0.2 2.4-0.2 2.5-0.2 2.5-0.2 2.5-0.2 2.5-0.1 2.5-0.2 2.5-0.2 2.5-0.1 2.5-0.2 2.5-0.2 2.5-0.1 2.5-0.2 2.5-0.2 2.5-0.1 2.5-0.2 2.5-0.1 2.5-0.1 2.5-0.2 2.5-0.1 2.5-0.1 2.5-0.2 2.5-0.1 2.5-0.1 2.4-0.1 2.5-0.1 2.5-0.1 2.5-0.1 2.5-0.1 2.5-0.1 2.5-0.1 2.5-0.1 2.5-0.1 2.5,0 2.5-0.1 2.5-0.1 2.5,0 2.5-0.1 2.5,0 2.5-0.1 2.5,0 2.5-0.1 2.5,0 2.5,0 2.5-0.1 2.5,0 2.5,0 2.5,0 2.5-0.1 2.5,0 2.5,0 2.5,0 2.5,0 2.5,0 2.5,0 2.5,0 2.5,0 2.5,0 2.5,0 2.5,0 2.5,0 2.5,0 2.5,0 2.5,0 2.5,0.1 2.5,0 2.6,0 2.5,0 2.5,0 2.5,0.1 2.5,0 2.5,0 2.5,0 2.5,0.1 2.5,0 2.5,0 2.5,0 2.5,0.1 2.5,0 2.5,0 2.5,0 2.5,0.1 2.5,0 2.5,0 2.5,0 2.5,0 2.5,0.1 2.5,0 2.5,0 2.5,0 2.5,0 2.5,0.1 2.5,0 2.5,0 2.5,0 2.5,0 2.5,0 2.5,0 2.5,0 2.5,0 2.5,0 2.5,0 2.5,0 2.5,0 2.5,0 2.5,0 2.5,0 2.5,0 2.5,0 2.5,0 2.5,0 2.5,0 2.5-0.1 2.5,0 2.5,0 2.5,0 2.5,0 2.5,0 2.5-0.1 2.5,0 2.5,0 2.5,0 2.5-0.1 2.5,0 2.5,0 2.5,0 2.5,0 2.5-0.1 2.5,0 2.5,0 2.5,0 2.5-0.1 2.5,0 2.5,0 2.5,0 2.5,0 2.5-0.1 2.5,0 2.5,0 2.5,0 2.5,0 2.5-0.1 2.5,0 2.5,0 2.5,0 2.5,0 2.5,0 2.5,0 2.5,0 2.5,0 2.5,0 2.5,0 2.5,0 2.5,0 2.5,0 2.5,0 2.5,0 2.5,0 2.5,0 2.5,0 2.5,0 2.5,0.1 2.5,0 2.5,0 2.5,0 2.5,0.1 2.5,0 2.5,0 2.5,0.1 2.5,0 2.5,0 2.5,0.1 2.5,0 2.5,0.1 2.5,0.1 2.5,0 2.5,0.1 2.5,0.1 2.5,0 2.5,0.1 2.5,0.1 2.5,0.2 2.5,0.1 2.5,0.2 2.5,0.2 2.5,0.2 2.5,0.2 2.4,0.3 2.5,0.3 2.5,0.3 2.5,0.4 2.4,0.4 2.5,0.4 2.5,0.5 2.4,0.5 2.4,0.6 2.5,0.6 2.4,0.6 2.4,0.6 2.4,0.7 2.4,0.7 2.4,0.6 2.5,0.6 2.4,0.6 2.4,0.6 2.5,0.5 2.4,0.5 2.5,0.5 2.4,0.4 2.5,0.4 2.5,0.5 2.4,0.4 2.5,0.5 2.4,0.5 2.5,0.6 2.4,0.6 2.4,0.7 2.4,0.7 2.4,0.7 2.4,0.7 2.4,0.7 2.4,0.6 2.4,0.7 2.5,0.6 2.4,0.5 2.5,0.4 2.4,0.4 2.5,0.3 2.5,0.2 2.5,0 2.5-0.1 2.5-0.2 2.5-0.4 2.4-0.5 2.4-0.7 2.4-0.8 2.3-1 2.2-1.2 2.1-1.3 2-1.5 2-1.6 1.8-1.6 1.9-1.8 1.7-1.7 1.8-1.8 1.8-1.8 1.7-1.7 1.9-1.7 1.9-1.7 2-1.5 2.1-1.3 2.2-1.1 2.4-0.8 2.4-0.5 2.5-0.3 2.5-0.1 2.5,0 2.5,0 2.5,0 2.5,0.1 2.5,0 2.5,0.1 2.5,0 2.5,0.1 2.5,0.1 2.5,0.1 2.5,0 2.5,0.1 2.5,0.1 2.5,0.2 2.5,0.1 2.5,0.1 2.5,0.2 2.5,0.1 2.5,0.2 2.5,0.1 2.5,0.2 2.5,0.2 2.5,0.2 2.5,0.2 2.5,0.2 2.5,0.2 2.4,0.2 2.5,0.3 2.5,0.2 2.5,0.3 2.5,0.3 2.5,0.3 2.5,0.3 2.4,0.3 2.5,0.3 2.5,0.3 2.5,0.3 2.5,0.4 2.4,0.3 2.5,0.4 2.5,0.4 2.4,0.4 2.5,0.4 2.5,0.4 2.4,0.4 2.5,0.4 2.5,0.5 2.4,0.5 2.5,0.4 2.4,0.5 2.5,0.5 2.4,0.5 2.5,0.5 2.4,0.5 2.5,0.5 2.4,0.4 2.5,0.5 2.5,0.5 2.4,0.4 2.5,0.5 2.4,0.4 2.5,0.4 2.5,0.4 2.5,0.3 2.4,0.3 2.5,0.3 2.5,0.3 2.5,0.2 2.5,0.2 2.5,0.2 2.5,0.1 2.5,0.1 2.5,0.1 2.5,0.1 2.5,0.1 2.5,0 2.5,0 2.5,0 2.5,0 2.5,0 2.5,0 2.5,0 2.5,0 2.5,0 2.5,0 2.5,0 2.5,0 2.5,0 2.5,0 2.5,0 2.5,0 2.5,0 2.5,0.1 2.5,0 2.5,0 2.5,0 2.5,0.1 2.5,0 2.5,0.1 2.5,0 2.5,0.1 2.5,0 2.5,0.1 2.5,0.1 2.5,0 2.5,0.1 2.5,0.1 2.5,0.1 2.5,0.1 2.5,0.1 2.5,0.1 2.5,0.2 2.5,0.1 2.5,0.1 2.5,0.1 2.5,0.2 2.5,0.1 2.5,0.1 2.5,0.1 2.5,0.2 2.5,0.1 2.5,0.1 2.5,0.1 2.5,0.1 2.5,0.1 2.5,0.1 2.5,0 2.5,0.1 2.5,0 2.5,0.1 2.5,0 2.5,0 2.5,0 2.5-0.1 2.5,0 2.5-0.1 2.5,0 2.4-0.1 2.5-0.2 2.5-0.1 2.5-0.2 2.5-0.1 2.5-0.2 2.5-0.2 2.5-0.2 2.5-0.2 2.5-0.3 2.5-0.2 2.5-0.3 2.5-0.2 2.4-0.3 2.5-0.2 2.5-0.3 2.5-0.3 2.5-0.3 2.5-0.2 2.5-0.3 2.4-0.3 2.5-0.3 2.5-0.2 2.5-0.3 2.5-0.3 2.5-0.2 2.5-0.3 2.5-0.2 2.4-0.2 2.5-0.3 2.5-0.2 2.5-0.2 2.5-0.2 2.5-0.2 2.5-0.2 2.5-0.2 2.5-0.1 2.5-0.2 2.5-0.2 2.5-0.1 2.5-0.2 2.5-0.1 2.5-0.2 2.5-0.1 2.4-0.2 2.5-0.1 2.5-0.1 2.5-0.2 2.5-0.1 2.5-0.1 2.5-0.1 2.5-0.2 2.5-0.1 2.5-0.1 2.5-0.1 2.5-0.1 2.5-0.1 2.5-0.2 2.5-0.1 2.5-0.1 2.5-0.1 2.5-0.1 2.5-0.2 2.5-0.1 2.5-0.1" fill="none" stroke="#000000" stroke-width="11.2" stroke-linejoin="round" stroke-linecap="butt"/>
<path d="M225.8,850.1l1.2,2.2 1.1,2.2 1.1,2.3 1.1,2.2 1.1,2.3 1,2.3 1,2.3 0.9,2.3 1,2.3 0.9,2.3 0.8,2.4 0.9,2.3 0.8,2.4 0.8,2.4 0.8,2.3 0.8,2.4 0.8,2.4 0.7,2.4 0.7,2.4 0.7,2.4 0.7,2.4 0.7,2.4 0.7,2.4 0.7,2.4 0.6,2.4 0.7,2.4 0.7,2.5 0.6,2.4 0.6,2.4 0.7,2.4 0.6,2.4 0.6,2.5 0.6,2.4 0.6,2.4 0.6,2.5 0.6,2.4 0.5,2.4 0.6,2.5 0.6,2.4 0.5,2.4 0.6,2.5 0.5,2.4 0.5,2.5 0.6,2.4 0.5,2.5 0.5,2.4 0.5,2.5 0.5,2.4 0.5,2.5 0.5,2.4 0.5,2.5 0.5,2.4 0.4,2.5 0.5,2.4 0.5,2.5 0.4,2.5 0.5,2.4 0.4,2.5 0.5,2.4 0.4,2.5 0.4,2.5 0.5,2.4 0.4,2.5 0.4,2.5 0.4,2.4 0.4,2.5 0.5,2.5 0.4,2.4 0.4,2.5 0.4,2.5 0.4,2.5 0.4,2.4 0.4,2.5 0.4,2.5 0.4,2.4 0.4,2.5 0.4,2.5 0.4,2.4 0.4,2.5 0.4,2.5 0.4,2.4 0.4,2.5 0.5,2.5 0.4,2.4 0.5,2.5 0.4,2.5 0.5,2.4 0.5,2.5 0.5,2.4 0.5,2.5 0.5,2.4 0.5,2.5 0.5,2.4 0.5,2.5 0.5,2.4 0.4,2.5 0.4,2.5 0.4,2.4 0.4,2.5 0.3,2.5 0.3,2.5 0.4,2.4 0.3,2.5 0.3,2.5 0.3,2.5 0.4,2.5 0.3,2.5 0.3,2.4 0.4,2.5 0.3,2.5 0.3,2.5 0.4,2.4 0.3,2.5 0.3,2.5 0.4,2.5 0.3,2.5 0.4,2.4 0.3,2.5 0.4,2.5 0.3,2.5 0.3,2.5 0.4,2.4 0.3,2.5 0.4,2.5 0.3,2.5 0.4,2.4 0.3,2.5 0.4,2.5 0.3,2.5 0.4,2.5 0.3,2.4 0.4,2.5 0.3,2.5 0.4,2.5 0.3,2.4 0.4,2.5 0.3,2.5 0.3,2.5 0.4,2.5 0.3,2.4 0.4,2.5 0.3,2.5 0.3,2.5 0.4,2.5 0.3,2.4 0.3,2.5 0.4,2.5 0.3,2.5 0.3,2.5 0.4,2.4 0.3,2.5 0.3,2.5 0.4,2.5 0.3,2.5 0.3,2.4 0.3,2.5 0.4,2.5 0.3,2.5 0.3,2.5 0.3,2.4 0.3,2.5 0.4,2.5 0.3,2.5 0.3,2.5 0.3,2.4 0.4,2.5 0.3,2.5 0.3,2.5 0.3,2.5 0.4,2.4 0.3,2.5 0.3,2.5 0.4,2.5 0.3,2.5 0.3,2.4 0.4,2.5 0.3,2.5 0.3,2.5 0.4,2.5 0.3,2.4 0.4,2.5 0.3,2.5 0.4,2.5 0.3,2.5 0.4,2.4 0.3,2.5 0.4,2.5 0.3,2.5 0.4,2.4 0.4,2.5 0.3,2.5 0.4,2.5 0.4,2.4 0.4,2.5 0.5,2.5 0.6,2.4 0.6,2.4 0.8,2.4 0.9,2.3 1.1,2.3 1.6,1.9 2-0.9 1.2-2.3 0.8-2.3 0.7-2.4 0.6-2.4 0.5-2.5 0.4-2.5 0.3-2.5 0.2-2.5 0.1-2.4 0.2-2.5 0.1-2.5 0.1-2.5 0-2.5 0.1-2.5 0-2.5 0-2.6 0-2.5 0-2.5 -0.1-2.5 0-2.5 0-2.5 -0.1-2.5 0-2.5 -0.1-2.5 0-2.5 0-2.5 0-2.5 0-2.5 0-2.5 0-2.5 0.1-2.5 0-2.5 0.1-2.5 0.1-2.5 0-2.5 0.1-2.5 0.1-2.5 0.1-2.5 0.2-2.5 0.1-2.5 0.1-2.5 0.1-2.5 0.2-2.5 0.1-2.5 0.1-2.5 0.2-2.5 0.1-2.5 0.2-2.5 0.1-2.5 0.2-2.5 0.1-2.5 0.1-2.5 0.2-2.5 0.1-2.5 0.2-2.5 0.1-2.5 0.1-2.5 0.1-2.5 0.2-2.4 0.1-2.5 0.1-2.5 0.1-2.5 0.1-2.5 0.1-2.5 0.2-2.5 0.1-2.5 0.1-2.5 0.1-2.5 0.1-2.5 0.1-2.5 0.1-2.5 0-2.5 0.1-2.5 0.1-2.5 0.1-2.5 0.1-2.5 0.1-2.5 0.1-2.5 0.1-2.5 0-2.6 0.1-2.5 0.1-2.5 0.1-2.5 0.1-2.5 0.1-2.5 0-2.5 0.1-2.5 0.1-2.5 0.1-2.5 0.1-2.5 0-2.5 0.1-2.5 0.1-2.5 0.1-2.5 0.1-2.5 0.1-2.5 0-2.5 0.1-2.5 0.1-2.5 0.1-2.5 0.1-2.5 0.1-2.5 0.1-2.5 0.1-2.5 0.1-2.5 0.1-2.5 0.1-2.5 0-2.5 0.1-2.5 0.2-2.5 0.1-2.5 0.1-2.5 0.1-2.5 0.1-2.5 0.1-2.5 0.1-2.5 0.1-2.5 0.1-2.5 0.1-2.5 0.2-2.5 0.1-2.5 0.1-2.5 0.1-2.5 0.2-2.5 0.1-2.5 0.1-2.5 0.2-2.5 0.1-2.5 0.1-2.4 0.2-2.5 0.1-2.5 0.2-2.5 0.1-2.5 0.2-2.5 0.1-2.5 0.2-2.5 0.1-2.5 0.2-2.5 0.2-2.5 0.1-2.5 0.2-2.5 0.2-2.5 0.2-2.5 0.1-2.5 0.2-2.5 0.2-2.5 0.2-2.5 0.2-2.5 0.2-2.5 0.3-2.5 0.2-2.5 0.3-2.4 0.3-2.5 0.3-2.5 0.4-2.5 0.4-2.5 0.4-2.4 0.4-2.5 0.5-2.4 0.5-2.5 0.6-2.4 0.6-2.5 0.6-2.4 0.7-2.4 0.7-2.4 0.8-2.4 0.8-2.3 0.8-2.4 1-2.3 0.9-2.3 1.1-2.3 1-2.2 1.2-2.3 1.2-2.2 1.3-2.1 1.4-2.1 1.4-2 1.5-2 1.6-1.9 1.7-1.9 1.8-1.7 1.9-1.7 2-1.5 2-1.4 2.2-1.3 2.2-1.2 2.3-1 2.3-0.8 2.5-0.7 2.4-0.6 2.4-0.5 2.5-0.4 2.5-0.4 2.4-0.5 2.5-0.4 2.4-0.6 2.4-0.7 2.4-0.8 2.3-1 2.2-1.2 2-1.4 2-1.5 2-1.6 2.1-1.4 2.2-1.1 2.4-0.8 2.5-0.3 2.5-0.2 2.5,0.1 2.5,0.1 2.5,0.2 2.5,0.2 2.4,0.3 2.5,0.4 2.5,0.4 2.4,0.4 2.5,0.5 2.5,0.5 2.4,0.5 2.5,0.5 2.4,0.5 2.5,0.5 2.4,0.5 2.5,0.4 2.4,0.4 2.5,0.5 2.5,0.4 2.5,0.3 2.4,0.4 2.5,0.4 2.5,0.4 2.4,0.4 2.5,0.4 2.5,0.4 2.4,0.5 2.5,0.4 2.5,0.5 2.4,0.6 2.4,0.5 2.5,0.6 2.4,0.6 2.4,0.7 2.4,0.7 2.4,0.8 2.3,0.8 2.4,0.9 2.3,1 2.3,1 2.2,1 2.3,1.1 2.3,1 2.4,0.8 2.4,0.4 2.5-0.3 2.4-0.8 2.1-1.2 2-1.6 1.8-1.7 1.5-2 1.3-2.1 1.1-2.3 1-2.3 0.9-2.3 0.9-2.3 1.3-2.2 1.4-2 1.7-1.9 1.7-1.8 1.7-1.9 1.7-1.8 1.7-1.8 1.8-1.8 1.8-1.7 1.9-1.7 1.9-1.6 1.9-1.6 2-1.5 2-1.5 2.1-1.4 2-1.4 2.2-1.3 2.1-1.3 2.2-1.2 2.2-1.2 2.3-1.1 2.2-1.1 2.3-1 2.3-1 2.3-0.9 2.4-0.9 2.3-0.8 2.4-0.8 2.4-0.8 2.4-0.7 2.4-0.7 2.4-0.7 2.4-0.6 2.4-0.6 2.5-0.6 2.4-0.5 2.5-0.6 2.4-0.5 2.5-0.5 2.4-0.4 2.5-0.5 2.5-0.4 2.4-0.4 2.5-0.4 2.5-0.4 2.4-0.4 2.5-0.4 2.5-0.3 2.5-0.4 2.4-0.3 2.5-0.3 2.5-0.4 2.5-0.3 2.5-0.3 2.4-0.3 2.5-0.3 2.5-0.3 2.5-0.3 2.5-0.3 2.5-0.2 2.5-0.3 2.5-0.3 2.4-0.2 2.5-0.3 2.5-0.2 2.5-0.2 2.5-0.3 2.5-0.2 2.5-0.2 2.5-0.3 2.5-0.2 2.5-0.2 2.5-0.2 2.5-0.2 2.4-0.2 2.5-0.2 2.5-0.2 2.5-0.3 2.5-0.2 2.5-0.2 2.5-0.2 2.5-0.2 2.5-0.1 2.5-0.2 2.5-0.2 2.5-0.2 2.5-0.2 2.5-0.2 2.5-0.2 2.5-0.1 2.5-0.2 2.5-0.2 2.5-0.2 2.4-0.1 2.5-0.2 2.5-0.1 2.5-0.2 2.5-0.2 2.5-0.1 2.5-0.2 2.5-0.1 2.5-0.1 2.5-0.2 2.5-0.1 2.5-0.1 2.5-0.1 2.5-0.2 2.5-0.1 2.5-0.1 2.5-0.1 2.5-0.1 2.5-0.1 2.5-0.1 2.5-0.1 2.5-0.1 2.5,0 2.5-0.1 2.5-0.1 2.5-0.1 2.5,0 2.5-0.1 2.5,0 2.5-0.1 2.5,0 2.5-0.1 2.5,0 2.5-0.1 2.5,0 2.5,0 2.5-0.1 2.5,0 2.5,0 2.5,0 2.5,0 2.6-0.1 2.5,0 2.5,0 2.5,0 2.5,0 2.5,0 2.5,0 2.5,0 2.5,0 2.5,0 2.5,0 2.5,0 2.5,0.1 2.5,0 2.5,0 2.5,0 2.5,0 2.5,0 2.5,0.1 2.5,0 2.5,0 2.5,0 2.5,0 2.5,0.1 2.5,0 2.5,0 2.5,0 2.5,0.1 2.5,0 2.5,0 2.5,0 2.5,0 2.5,0.1 2.5,0 2.5,0 2.5,0 2.5,0.1 2.5,0 2.5,0 2.5,0 2.5,0 2.5,0 2.5,0.1 2.5,0 2.5,0 2.5,0 2.5,0 2.5,0 2.5,0 2.5,0 2.5,0 2.6,0 2.5,0 2.5,0 2.5,0 2.5,0 2.5,0 2.5,0 2.5,0 2.5,0 2.5,0 2.5-0.1 2.5,0 2.5,0 2.5,0 2.5,0 2.5,0 2.5-0.1 2.5,0 2.5,0 2.5,0 2.5,0 2.5-0.1 2.5,0 2.5,0 2.5,0 2.5-0.1 2.5,0 2.5,0 2.5,0 2.5,0 2.5-0.1 2.5,0 2.5,0 2.5,0 2.5,0 2.5-0.1 2.5,0 2.5,0 2.5,0 2.5,0 2.5,0 2.5-0.1 2.5,0 2.5,0 2.5,0 2.5,0 2.5,0 2.5,0 2.5,0 2.5,0 2.6,0 2.5,0 2.5,0 2.5,0 2.5,0 2.5,0 2.5,0 2.5,0 2.5,0 2.5,0 2.5,0.1 2.5,0 2.5,0 2.5,0 2.5,0.1 2.5,0 2.5,0 2.5,0.1 2.5,0 2.5,0 2.5,0.1 2.5,0 2.5,0.1 2.5,0.1 2.5,0 2.5,0.1 2.5,0 2.5,0.1 2.5,0.1 2.5,0.1 2.5,0.1 2.5,0.2 2.5,0.1 2.5,0.2 2.5,0.2 2.5,0.3 2.5,0.2 2.4,0.3 2.5,0.3 2.5,0.4 2.5,0.4 2.4,0.4 2.5,0.5 2.4,0.5 2.5,0.5 2.4,0.6 2.4,0.7 2.5,0.6 2.4,0.7 2.4,0.6 2.4,0.7 2.4,0.6 2.4,0.6 2.5,0.6 2.4,0.5 2.5,0.5 2.4,0.5 2.5,0.4 2.5,0.5 2.4,0.4 2.5,0.5 2.4,0.4 2.5,0.5 2.4,0.6 2.5,0.6 2.4,0.7 2.4,0.7 2.4,0.7 2.4,0.7 2.4,0.6 2.4,0.7 2.4,0.7 2.4,0.6 2.5,0.5 2.4,0.5 2.5,0.4 2.5,0.3 2.5,0.2 2.5,0 2.5,0 2.5-0.2 2.5-0.3 2.4-0.5 2.4-0.7 2.4-0.8 2.3-0.9 2.2-1.2 2.2-1.3 2-1.5 1.9-1.6 1.9-1.6 1.8-1.7 1.8-1.8 1.8-1.7 1.8-1.8 1.8-1.7 1.8-1.7 1.9-1.6 2.1-1.5 2.1-1.3 2.2-1.1 2.4-0.9 2.4-0.6 2.5-0.3 2.5-0.3 2.5-0.1 2.5-0.1 2.5,0 2.5,0 2.5,0 2.5,0 2.5,0.1 2.5,0.1 2.5,0 2.5,0.2 2.5,0.1 2.5,0.1 2.5,0.2 2.5,0.2 2.5,0.2 2.5,0.2 2.5,0.2 2.4,0.2 2.5,0.2 2.5,0.2 2.5,0.3 2.5,0.2 2.5,0.3 2.5,0.2 2.5,0.3 2.5,0.2 2.5,0.3 2.4,0.2 2.5,0.3 2.5,0.2 2.5,0.3 2.5,0.2 2.5,0.3 2.5,0.2 2.5,0.2 2.5,0.3 2.5,0.2 2.4,0.3 2.5,0.3 2.5,0.3 2.5,0.3 2.5,0.3 2.5,0.4 2.4,0.4 2.5,0.4 2.5,0.4 2.4,0.5 2.5,0.5 2.4,0.6 2.4,0.5 2.5,0.6 2.4,0.6 2.4,0.6 2.5,0.6 2.4,0.5 2.5,0.6 2.4,0.5 2.5,0.5 2.4,0.4 2.5,0.4 2.5,0.4 2.4,0.4 2.5,0.3 2.5,0.3 2.5,0.3 2.5,0.2 2.5,0.3 2.5,0.2 2.5,0.2 2.5,0.1 2.4,0.2 2.5,0.1 2.5,0.2 2.5,0.1 2.5,0.1 2.5,0 2.5,0.1 2.5,0.1 2.6,0 2.5,0.1 2.5,0 2.5,0 2.5,0 2.5,0.1 2.5,0 2.5,0 2.5,0 2.5,0 2.5,0 2.5,0 2.5,0 2.5,0 2.5,0 2.5,0 2.5,0 2.5,0 2.5,0 2.5,0 2.5,0 2.5,0.1 2.5,0 2.5,0 2.5,0.1 2.5,0 2.5,0.1 2.5,0 2.5,0.1 2.5,0.1 2.5,0.1 2.5,0.1 2.5,0.1 2.5,0.1 2.5,0.1 2.5,0.1 2.5,0.1 2.5,0.2 2.5,0.1 2.5,0.1 2.5,0.2 2.5,0.1 2.5,0.1 2.5,0.1 2.5,0.2 2.5,0.1 2.5,0.1 2.5,0 2.5,0.1 2.5,0.1 2.5,0 2.5,0.1 2.5,0 2.5,0 2.5,0 2.5,0 2.5-0.1 2.5,0 2.5-0.1 2.5-0.1 2.5-0.1 2.5-0.2 2.5-0.2 2.5-0.2 2.5-0.2 2.5-0.2 2.5-0.2 2.5-0.2 2.5-0.3 2.4-0.2 2.5-0.3 2.5-0.3 2.5-0.3 2.5-0.2 2.5-0.3 2.5-0.3 2.4-0.3 2.5-0.3 2.5-0.3 2.5-0.3 2.5-0.2 2.5-0.3 2.5-0.3 2.5-0.2 2.4-0.3 2.5-0.2 2.5-0.2 2.5-0.3 2.5-0.2 2.5-0.2 2.5-0.1 2.5-0.2 2.5-0.2 2.5-0.1 2.5-0.2 2.5-0.1 2.5-0.1 2.5-0.2 2.5-0.1 2.5-0.1 2.5-0.1 2.5-0.1 2.5-0.1 2.5-0.1 2.5,0 2.5-0.1 2.5-0.1 2.5-0.1 2.5,0 2.5-0.1 2.5-0.1 2.5-0.1 2.5,0 2.5-0.1 2.5-0.1 2.5,0 2.5-0.1 2.5-0.1 2.5-0.1 2.5-0.1 2.5,0 2.5-0.1 2.5-0.1 2.5-0.1" fill="none" stroke="#ff0000" stroke-width="11.2" stroke-linejoin="round" stroke-linecap="butt"/>
<path d="M227,847l0.7,2.4 0.9,2.3 1.1,2.3 1.2,2.2 1.2,2.2 1.3,2.1 1.2,2.2 1.3,2.2 1.2,2.2 1.1,2.2 1.1,2.2 1,2.3 1,2.3 0.9,2.3 0.9,2.4 0.9,2.3 0.8,2.4 0.8,2.4 0.7,2.4 0.7,2.4 0.7,2.4 0.7,2.4 0.7,2.4 0.7,2.4 0.6,2.4 0.7,2.4 0.6,2.5 0.6,2.4 0.7,2.4 0.6,2.4 0.6,2.4 0.6,2.5 0.6,2.4 0.6,2.4 0.6,2.5 0.5,2.4 0.6,2.5 0.6,2.4 0.5,2.4 0.6,2.5 0.5,2.4 0.5,2.5 0.6,2.4 0.5,2.5 0.5,2.4 0.5,2.5 0.5,2.4 0.5,2.5 0.5,2.4 0.5,2.5 0.5,2.4 0.5,2.5 0.4,2.4 0.5,2.5 0.5,2.4 0.5,2.5 0.4,2.5 0.5,2.4 0.4,2.5 0.5,2.4 0.4,2.5 0.5,2.5 0.4,2.4 0.5,2.5 0.4,2.5 0.5,2.4 0.4,2.5 0.5,2.4 0.4,2.5 0.4,2.5 0.5,2.4 0.4,2.5 0.4,2.5 0.5,2.4 0.4,2.5 0.4,2.5 0.4,2.4 0.5,2.5 0.4,2.5 0.4,2.4 0.4,2.5 0.4,2.5 0.5,2.4 0.4,2.5 0.4,2.5 0.4,2.4 0.4,2.5 0.4,2.5 0.4,2.4 0.4,2.5 0.4,2.5 0.4,2.4 0.4,2.5 0.4,2.5 0.4,2.5 0.4,2.4 0.4,2.5 0.4,2.5 0.4,2.4 0.4,2.5 0.4,2.5 0.4,2.5 0.4,2.4 0.3,2.5 0.4,2.5 0.4,2.5 0.4,2.4 0.3,2.5 0.4,2.5 0.4,2.4 0.4,2.5 0.3,2.5 0.4,2.5 0.3,2.5 0.4,2.4 0.4,2.5 0.3,2.5 0.4,2.5 0.3,2.4 0.4,2.5 0.3,2.5 0.4,2.5 0.3,2.5 0.3,2.4 0.4,2.5 0.3,2.5 0.4,2.5 0.3,2.4 0.3,2.5 0.4,2.5 0.3,2.5 0.3,2.5 0.4,2.4 0.3,2.5 0.3,2.5 0.3,2.5 0.4,2.5 0.3,2.5 0.3,2.4 0.4,2.5 0.3,2.5 0.3,2.5 0.3,2.5 0.4,2.4 0.3,2.5 0.3,2.5 0.4,2.5 0.3,2.5 0.3,2.4 0.3,2.5 0.4,2.5 0.3,2.5 0.3,2.5 0.4,2.4 0.3,2.5 0.4,2.5 0.3,2.5 0.3,2.5 0.4,2.4 0.3,2.5 0.4,2.5 0.3,2.5 0.4,2.5 0.3,2.4 0.4,2.5 0.3,2.5 0.4,2.5 0.3,2.4 0.4,2.5 0.3,2.5 0.4,2.5 0.3,2.4 0.4,2.5 0.4,2.5 0.3,2.5 0.4,2.5 0.3,2.4 0.4,2.5 0.4,2.5 0.3,2.5 0.4,2.4 0.4,2.5 0.3,2.5 0.4,2.5 0.3,2.4 0.4,2.5 0.4,2.5 0.5,2.4 0.6,2.5 0.6,2.4 0.7,2.4 0.8,2.4 1,2.3 1.3,2.1 2-0.1 1.2-2.2 0.7-2.4 0.6-2.4 0.5-2.5 0.4-2.5 0.3-2.4 0.2-2.5 0.1-2.5 0.1-2.5 0.1-2.5 0.1-2.5 0.1-2.5 0.1-2.5 0.1-2.5 0.1-2.5 0.1-2.5 0.1-2.5 0.1-2.5 0.1-2.5 0.1-2.5 0.1-2.5 0.1-2.5 0.1-2.5 0.1-2.5 0.1-2.5 0.1-2.5 0.2-2.5 0.1-2.5 0.1-2.5 0.1-2.5 0.1-2.5 0.2-2.5 0.1-2.5 0.1-2.5 0.1-2.5 0.1-2.5 0.2-2.5 0.1-2.5 0.1-2.5 0.1-2.5 0.2-2.5 0.1-2.5 0.1-2.5 0.1-2.5 0.2-2.5 0.1-2.5 0.1-2.5 0.1-2.5 0.1-2.5 0.2-2.5 0.1-2.5 0.1-2.5 0.1-2.5 0.2-2.5 0.1-2.5 0.1-2.5 0.1-2.5 0.1-2.5 0.1-2.5 0.2-2.5 0.1-2.5 0.1-2.5 0.1-2.5 0.1-2.5 0.1-2.5 0.1-2.5 0.2-2.5 0.1-2.5 0.1-2.5 0.1-2.5 0.1-2.5 0.1-2.5 0.1-2.5 0.1-2.5 0.1-2.5 0.1-2.5 0.1-2.5 0.1-2.5 0.1-2.5 0.1-2.5 0-2.5 0.1-2.5 0.1-2.5 0.1-2.5 0.1-2.5 0.1-2.5 0-2.5 0.1-2.5 0.1-2.5 0.1-2.5 0-2.5 0.1-2.5 0.1-2.5 0-2.5 0.1-2.5 0.1-2.5 0-2.5 0.1-2.5 0.1-2.5 0-2.5 0.1-2.5 0-2.6 0.1-2.5 0.1-2.5 0.1-2.5 0-2.5 0.1-2.5 0.1-2.5 0.1-2.5 0.1-2.5 0-2.5 0.1-2.5 0.1-2.5 0.1-2.5 0.1-2.5 0.1-2.5 0.2-2.5 0.1-2.5 0.1-2.5 0.1-2.5 0.2-2.5 0.1-2.5 0.2-2.5 0.1-2.5 0.2-2.5 0.1-2.4 0.2-2.5 0.2-2.5 0.2-2.5 0.2-2.5 0.2-2.5 0.2-2.5 0.3-2.5 0.2-2.5 0.2-2.5 0.3-2.5 0.3-2.5 0.2-2.5 0.3-2.4 0.3-2.5 0.3-2.5 0.4-2.5 0.3-2.5 0.3-2.4 0.4-2.5 0.4-2.5 0.3-2.5 0.4-2.4 0.4-2.5 0.5-2.5 0.4-2.4 0.5-2.5 0.4-2.5 0.6-2.4 0.5-2.4 0.6-2.5 0.6-2.4 0.7-2.4 0.8-2.4 0.8-2.3 0.9-2.4 1-2.3 1-2.3 1.2-2.2 1.2-2.2 1.3-2.1 1.3-2.1 1.5-2.1 1.5-1.9 1.6-1.9 1.7-1.9 1.8-1.8 1.9-1.6 1.9-1.6 2-1.5 2.1-1.4 2.1-1.3 2.2-1.2 2.3-1 2.3-0.9 2.4-0.8 2.4-0.7 2.5-0.5 2.5-0.4 2.4-0.2 2.5-0.3 2.5-0.2 2.5-0.4 2.4-0.7 2.3-1 2-1.4 2-1.6 1.9-1.7 1.9-1.5 2.2-1.3 2.3-1 2.4-0.7 2.4-0.5 2.5-0.3 2.5-0.1 2.5,0 2.5,0.1 2.5,0.2 2.5,0.3 2.5,0.4 2.4,0.4 2.5,0.5 2.4,0.5 2.5,0.5 2.4,0.5 2.5,0.5 2.4,0.5 2.5,0.5 2.5,0.4 2.4,0.5 2.5,0.4 2.5,0.4 2.4,0.4 2.5,0.4 2.5,0.3 2.5,0.4 2.4,0.4 2.5,0.4 2.5,0.5 2.4,0.4 2.5,0.4 2.4,0.5 2.5,0.5 2.4,0.5 2.5,0.6 2.4,0.6 2.4,0.6 2.4,0.7 2.4,0.8 2.4,0.7 2.4,0.8 2.3,0.9 2.4,0.9 2.3,0.9 2.3,1 2.3,1 2.2,1.1 2.4,0.9 2.4,0.5 2.5,0 2.4-0.5 2.2-1.2 1.9-1.6 1.6-2 1.4-2 1.3-2.2 1.3-2.1 1.2-2.2 1.3-2.2 1.3-2.1 1.3-2.1 1.4-2.1 1.4-2.1 1.5-2 1.6-1.9 1.6-1.9 1.7-1.8 1.8-1.8 1.8-1.7 1.9-1.7 1.9-1.6 1.9-1.6 2-1.5 2.1-1.5 2-1.4 2.1-1.4 2.2-1.3 2.1-1.2 2.2-1.3 2.2-1.1 2.2-1.2 2.3-1.1 2.3-1 2.3-1 2.3-0.9 2.3-1 2.4-0.8 2.3-0.9 2.4-0.7 2.4-0.8 2.4-0.7 2.4-0.7 2.4-0.7 2.4-0.6 2.4-0.6 2.5-0.6 2.4-0.5 2.5-0.5 2.4-0.5 2.5-0.5 2.4-0.4 2.5-0.4 2.5-0.4 2.5-0.4 2.4-0.4 2.5-0.3 2.5-0.4 2.5-0.3 2.5-0.3 2.4-0.3 2.5-0.3 2.5-0.3 2.5-0.2 2.5-0.3 2.5-0.3 2.5-0.2 2.5-0.3 2.4-0.3 2.5-0.2 2.5-0.3 2.5-0.3 2.5-0.2 2.5-0.3 2.5-0.3 2.5-0.2 2.4-0.3 2.5-0.3 2.5-0.2 2.5-0.3 2.5-0.2 2.5-0.3 2.5-0.2 2.5-0.3 2.5-0.2 2.5-0.3 2.4-0.2 2.5-0.3 2.5-0.2 2.5-0.2 2.5-0.3 2.5-0.2 2.5-0.2 2.5-0.2 2.5-0.3 2.5-0.2 2.5-0.2 2.5-0.2 2.5-0.2 2.4-0.2 2.5-0.2 2.5-0.2 2.5-0.2 2.5-0.1 2.5-0.2 2.5-0.2 2.5-0.1 2.5-0.2 2.5-0.1 2.5-0.2 2.5-0.1 2.5-0.1 2.5-0.2 2.5-0.1 2.5-0.1 2.5-0.1 2.5-0.1 2.5-0.1 2.5-0.1 2.5-0.1 2.5-0.1 2.5,0 2.5-0.1 2.5-0.1 2.5,0 2.5-0.1 2.5-0.1 2.5,0 2.5-0.1 2.5,0 2.5,0 2.5-0.1 2.5,0 2.5,0 2.5-0.1 2.5,0 2.5,0 2.5,0 2.5,0 2.6,0 2.5,0 2.5-0.1 2.5,0 2.5,0 2.5,0 2.5,0 2.5,0 2.5,0 2.5,0 2.5,0 2.5,0.1 2.5,0 2.5,0 2.5,0 2.5,0 2.5,0 2.5,0 2.5,0 2.5,0 2.5,0 2.5,0 2.5,0 2.5,0 2.5,0 2.5,0 2.5,0 2.5,0 2.5,0.1 2.5,0 2.5,0 2.5,0 2.5,0 2.5-0.1 2.5,0 2.5,0 2.5,0 2.5,0 2.5,0 2.5,0 2.5,0 2.5,0 2.6,0 2.5,0 2.5,0 2.5,0 2.5,0 2.5,0 2.5,0 2.5,0 2.5-0.1 2.5,0 2.5,0 2.5,0 2.5,0 2.5,0 2.5,0 2.5,0 2.5,0 2.5,0 2.5,0 2.5-0.1 2.5,0 2.5,0 2.5,0 2.5,0 2.5,0 2.5,0 2.5,0 2.5,0 2.5,0 2.5,0 2.5-0.1 2.5,0 2.5,0 2.5,0 2.5,0 2.5,0 2.5,0 2.5,0 2.5,0 2.5,0 2.5,0 2.5,0 2.6,0 2.5,0 2.5,0 2.5,0 2.5,0 2.5,0 2.5,0 2.5,0 2.5,0 2.5,0 2.5,0 2.5,0 2.5,0 2.5,0 2.5,0 2.5,0 2.5,0 2.5,0 2.5,0 2.5,0 2.5,0 2.5,0 2.5,0.1 2.5,0 2.5,0 2.5,0 2.5,0 2.5,0 2.5,0 2.5,0 2.5,0 2.5,0.1 2.5,0 2.5,0 2.5,0 2.5,0 2.5,0 2.5,0 2.5,0 2.5,0.1 2.5,0 2.5,0 2.6,0 2.5,0 2.5,0 2.5,0 2.5,0 2.5,0.1 2.5,0 2.5,0 2.5,0 2.5,0.1 2.5,0 2.5,0.1 2.5,0.2 2.5,0.1 2.5,0.2 2.5,0.2 2.4,0.3 2.5,0.3 2.5,0.4 2.5,0.4 2.4,0.4 2.5,0.4 2.5,0.5 2.4,0.5 2.5,0.5 2.4,0.6 2.4,0.5 2.5,0.6 2.4,0.6 2.5,0.5 2.4,0.6 2.4,0.6 2.4,0.6 2.5,0.6 2.4,0.6 2.5,0.5 2.4,0.6 2.4,0.6 2.5,0.5 2.4,0.5 2.5,0.6 2.4,0.5 2.5,0.5 2.4,0.6 2.4,0.5 2.5,0.6 2.4,0.5 2.5,0.6 2.4,0.6 2.4,0.6 2.4,0.6 2.5,0.6 2.4,0.6 2.4,0.6 2.5,0.6 2.4,0.5 2.5,0.5 2.4,0.3 2.5,0.3 2.5,0.2 2.5,0.1 2.5-0.1 2.5-0.3 2.5-0.4 2.4-0.7 2.4-0.8 2.2-1 2.3-1.2 2.1-1.3 2-1.4 2-1.6 1.9-1.6 1.8-1.8 1.7-1.7 1.8-1.8 1.7-1.8 1.8-1.8 1.9-1.6 1.9-1.6 2.1-1.4 2.2-1.1 2.3-1 2.4-0.9 2.4-0.6 2.5-0.5 2.4-0.4 2.5-0.2 2.5-0.2 2.5-0.1 2.5,0 2.5,0.1 2.5,0.1 2.5,0.1 2.5,0.1 2.5,0.2 2.5,0.1 2.5,0.2 2.5,0.1 2.5,0.2 2.5,0.2 2.5,0.2 2.5,0.2 2.5,0.2 2.5,0.2 2.5,0.2 2.5,0.2 2.5,0.2 2.5,0.3 2.4,0.2 2.5,0.2 2.5,0.3 2.5,0.2 2.5,0.3 2.5,0.3 2.5,0.2 2.5,0.3 2.5,0.3 2.4,0.3 2.5,0.2 2.5,0.3 2.5,0.3 2.5,0.3 2.5,0.3 2.5,0.3 2.4,0.4 2.5,0.3 2.5,0.3 2.5,0.4 2.5,0.3 2.4,0.4 2.5,0.4 2.5,0.4 2.4,0.5 2.5,0.5 2.4,0.5 2.5,0.6 2.4,0.5 2.4,0.6 2.5,0.5 2.4,0.5 2.5,0.6 2.4,0.4 2.5,0.5 2.5,0.5 2.4,0.4 2.5,0.4 2.5,0.4 2.4,0.4 2.5,0.3 2.5,0.4 2.5,0.3 2.5,0.3 2.4,0.3 2.5,0.3 2.5,0.3 2.5,0.2 2.5,0.3 2.5,0.2 2.5,0.2 2.5,0.2 2.5,0.2 2.5,0.2 2.5,0.2 2.5,0.1 2.5,0.2 2.5,0.1 2.5,0.1 2.4,0.2 2.5,0.1 2.5,0.1 2.6,0.1 2.5,0.1 2.5,0.1 2.5,0 2.5,0.1 2.5,0.1 2.5,0 2.5,0.1 2.5,0 2.5,0.1 2.5,0 2.5,0.1 2.5,0 2.5,0.1 2.5,0 2.5,0 2.5,0.1 2.5,0 2.5,0 2.5,0.1 2.5,0 2.5,0 2.5,0.1 2.5,0 2.5,0 2.5,0.1 2.5,0 2.5,0.1 2.5,0 2.5,0.1 2.5,0 2.5,0.1 2.5,0 2.5,0.1 2.5,0 2.5,0.1 2.5,0.1 2.5,0 2.5,0.1 2.5,0 2.5,0.1 2.5,0 2.5,0.1 2.5,0 2.5,0 2.5,0.1 2.5,0 2.5,0.1 2.5,0 2.5,0 2.5,0.1 2.5,0 2.6,0 2.5,0 2.5,0 2.5,0 2.5,0 2.5,0 2.5,0 2.5,0 2.5,0 2.5,0 2.5,0 2.5-0.1 2.5,0 2.5-0.1 2.5,0 2.5-0.1 2.5-0.1 2.5,0 2.5-0.1 2.5-0.1 2.5-0.1 2.5-0.1 2.5-0.2 2.5-0.1 2.5-0.1 2.5-0.2 2.5-0.1 2.5-0.2 2.5-0.2 2.5-0.1 2.5-0.2 2.5-0.2 2.5-0.2 2.4-0.3 2.5-0.2 2.5-0.2 2.5-0.2 2.5-0.3 2.5-0.2 2.5-0.2 2.5-0.3 2.5-0.2 2.5-0.3 2.5-0.2 2.5-0.2 2.4-0.3 2.5-0.2 2.5-0.2 2.5-0.2 2.5-0.3 2.5-0.2 2.5-0.2 2.5-0.2 2.5-0.1 2.5-0.2 2.5-0.2 2.5-0.1 2.5-0.2 2.5-0.1 2.5-0.1 2.5-0.1 2.5-0.1 2.5,0 2.5-0.1 2.5,0 2.5,0" fill="none" stroke="#00ff00" stroke-width="11.2" stroke-linejoin="round" stroke-linecap="butt"/>
<path d="M226.1,849.9l1.1,2.3 1,2.3 1,2.2 1.1,2.3 1,2.3 0.9,2.3 1,2.3 0.9,2.4 1,2.3 0.9,2.3 0.9,2.3 0.9,2.4 0.8,2.3 0.9,2.4 0.8,2.3 0.8,2.4 0.8,2.4 0.8,2.3 0.8,2.4 0.8,2.4 0.7,2.4 0.7,2.4 0.8,2.4 0.7,2.4 0.7,2.4 0.6,2.4 0.7,2.4 0.7,2.4 0.6,2.4 0.7,2.4 0.6,2.5 0.6,2.4 0.6,2.4 0.6,2.4 0.6,2.5 0.6,2.4 0.5,2.4 0.6,2.5 0.6,2.4 0.5,2.5 0.5,2.4 0.6,2.5 0.5,2.4 0.5,2.4 0.5,2.5 0.5,2.5 0.5,2.4 0.5,2.5 0.5,2.4 0.4,2.5 0.5,2.4 0.5,2.5 0.4,2.4 0.5,2.5 0.5,2.5 0.4,2.4 0.5,2.5 0.4,2.4 0.5,2.5 0.4,2.5 0.4,2.4 0.5,2.5 0.4,2.4 0.4,2.5 0.5,2.5 0.4,2.4 0.5,2.5 0.4,2.5 0.4,2.4 0.5,2.5 0.4,2.5 0.4,2.4 0.5,2.5 0.4,2.4 0.4,2.5 0.4,2.5 0.5,2.4 0.4,2.5 0.4,2.5 0.5,2.4 0.4,2.5 0.4,2.5 0.4,2.4 0.5,2.5 0.4,2.5 0.4,2.4 0.4,2.5 0.5,2.5 0.4,2.4 0.4,2.5 0.4,2.5 0.4,2.4 0.4,2.5 0.4,2.5 0.4,2.4 0.5,2.5 0.4,2.5 0.4,2.4 0.4,2.5 0.4,2.5 0.4,2.4 0.3,2.5 0.4,2.5 0.4,2.4 0.4,2.5 0.4,2.5 0.4,2.5 0.4,2.4 0.3,2.5 0.4,2.5 0.4,2.5 0.4,2.4 0.3,2.5 0.4,2.5 0.3,2.5 0.4,2.4 0.4,2.5 0.3,2.5 0.4,2.5 0.3,2.4 0.3,2.5 0.4,2.5 0.3,2.5 0.4,2.5 0.3,2.4 0.3,2.5 0.4,2.5 0.3,2.5 0.3,2.4 0.3,2.5 0.4,2.5 0.3,2.5 0.3,2.5 0.3,2.4 0.4,2.5 0.3,2.5 0.3,2.5 0.3,2.5 0.4,2.5 0.3,2.4 0.3,2.5 0.3,2.5 0.3,2.5 0.4,2.5 0.3,2.4 0.3,2.5 0.3,2.5 0.4,2.5 0.3,2.5 0.3,2.4 0.3,2.5 0.4,2.5 0.3,2.5 0.3,2.5 0.4,2.4 0.3,2.5 0.3,2.5 0.4,2.5 0.3,2.4 0.4,2.5 0.3,2.5 0.4,2.5 0.3,2.5 0.4,2.4 0.3,2.5 0.4,2.5 0.4,2.5 0.3,2.4 0.4,2.5 0.4,2.5 0.3,2.5 0.4,2.4 0.4,2.5 0.3,2.5 0.4,2.5 0.4,2.4 0.3,2.5 0.4,2.5 0.4,2.4 0.3,2.5 0.4,2.5 0.4,2.5 0.3,2.4 0.4,2.5 0.4,2.5 0.4,2.5 0.5,2.4 0.5,2.5 0.6,2.4 0.6,2.4 0.8,2.4 0.9,2.3 1.2,2.2 2-0.3 1.1-2.2 0.8-2.4 0.6-2.4 0.4-2.5 0.4-2.5 0.3-2.4 0.2-2.5 0.1-2.5 0.1-2.5 0.1-2.5 0.1-2.5 0.1-2.5 0.1-2.5 0.1-2.5 0.1-2.5 0.1-2.5 0.2-2.5 0.1-2.5 0.1-2.5 0.1-2.5 0.1-2.5 0.2-2.5 0.1-2.5 0.1-2.5 0.1-2.5 0.2-2.5 0.1-2.5 0.1-2.5 0.1-2.5 0.2-2.5 0.1-2.5 0.1-2.5 0.2-2.5 0.1-2.5 0.1-2.5 0.1-2.5 0.2-2.5 0.1-2.5 0.1-2.5 0.1-2.5 0.1-2.5 0.2-2.5 0.1-2.5 0.1-2.5 0.1-2.5 0.1-2.5 0.1-2.5 0.2-2.5 0.1-2.5 0.1-2.5 0.1-2.5 0.1-2.5 0.1-2.5 0.1-2.5 0.1-2.5 0.1-2.5 0.1-2.5 0.2-2.5 0.1-2.5 0.1-2.5 0.1-2.5 0.1-2.5 0.1-2.5 0.1-2.5 0.1-2.5 0.1-2.5 0.1-2.5 0.1-2.5 0.1-2.5 0.1-2.5 0.1-2.5 0.1-2.5 0.1-2.5 0.1-2.5 0.1-2.5 0.1-2.5 0-2.5 0.1-2.5 0.1-2.5 0.1-2.5 0.1-2.5 0.1-2.5 0.1-2.5 0.1-2.5 0.1-2.5 0.1-2.5 0.1-2.5 0-2.5 0.1-2.5 0.1-2.5 0.1-2.5 0.1-2.5 0.1-2.5 0.1-2.5 0.1-2.5 0-2.5 0.1-2.5 0.1-2.5 0.1-2.5 0.1-2.5 0.1-2.5 0.1-2.5 0.1-2.5 0.1-2.5 0.1-2.5 0.1-2.5 0.1-2.5 0.1-2.5 0.1-2.4 0.1-2.5 0.1-2.5 0.1-2.5 0.1-2.5 0.1-2.5 0.1-2.5 0.1-2.5 0.2-2.5 0.1-2.5 0.1-2.5 0.1-2.5 0.2-2.5 0.1-2.5 0.1-2.5 0.2-2.5 0.1-2.5 0.2-2.5 0.2-2.5 0.1-2.5 0.2-2.5 0.2-2.5 0.1-2.5 0.2-2.5 0.2-2.5 0.2-2.5 0.2-2.5 0.2-2.5 0.2-2.5 0.2-2.5 0.2-2.4 0.3-2.5 0.2-2.5 0.3-2.5 0.3-2.5 0.3-2.5 0.3-2.5 0.3-2.4 0.4-2.5 0.4-2.5 0.4-2.4 0.5-2.5 0.5-2.5 0.5-2.4 0.5-2.4 0.6-2.5 0.6-2.4 0.7-2.4 0.7-2.4 0.8-2.4 0.8-2.4 0.8-2.3 0.9-2.3 1-2.4 1-2.2 1.1-2.3 1.2-2.2 1.2-2.2 1.3-2.1 1.4-2.1 1.4-2.1 1.5-1.9 1.6-2 1.7-1.8 1.8-1.8 1.9-1.6 1.9-1.6 2-1.5 2.1-1.4 2.2-1.2 2.2-1.2 2.3-1 2.3-1 2.3-0.8 2.4-0.7 2.5-0.6 2.4-0.5 2.5-0.4 2.5-0.3 2.5-0.3 2.4-0.3 2.5-0.4 2.4-0.8 2.2-1.1 2.1-1.4 1.9-1.6 2-1.5 2-1.5 2.2-1.2 2.4-0.9 2.4-0.7 2.4-0.5 2.5-0.3 2.5-0.1 2.5,0 2.5,0.1 2.5,0.3 2.5,0.3 2.4,0.4 2.5,0.5 2.4,0.5 2.5,0.5 2.4,0.6 2.5,0.5 2.4,0.5 2.5,0.5 2.4,0.5 2.5,0.4 2.5,0.4 2.4,0.4 2.5,0.4 2.5,0.4 2.4,0.4 2.5,0.3 2.5,0.4 2.5,0.4 2.4,0.4 2.5,0.4 2.5,0.4 2.4,0.5 2.5,0.5 2.4,0.5 2.5,0.5 2.4,0.6 2.4,0.7 2.4,0.6 2.4,0.8 2.4,0.7 2.4,0.9 2.3,0.8 2.4,0.9 2.3,0.9 2.3,0.9 2.3,1 2.3,1 2.3,0.9 2.4,0.8 2.5,0.3 2.5-0.3 2.3-0.8 2.2-1.2 1.9-1.6 1.8-1.8 1.5-2 1.3-2.1 1.1-2.3 1-2.3 1-2.3 1-2.2 1.2-2.2 1.5-2.1 1.6-1.9 1.6-1.8 1.8-1.9 1.7-1.7 1.8-1.8 1.8-1.7 1.8-1.7 1.9-1.7 1.9-1.6 1.9-1.6 2-1.6 2-1.5 2-1.4 2.1-1.4 2.2-1.3 2.1-1.3 2.2-1.2 2.2-1.2 2.2-1.1 2.3-1.1 2.3-1 2.3-1 2.3-0.9 2.3-0.9 2.4-0.8 2.4-0.8 2.3-0.8 2.4-0.7 2.4-0.7 2.4-0.7 2.5-0.6 2.4-0.7 2.4-0.5 2.5-0.6 2.4-0.5 2.5-0.5 2.4-0.5 2.5-0.4 2.4-0.5 2.5-0.4 2.5-0.4 2.5-0.4 2.4-0.3 2.5-0.4 2.5-0.3 2.5-0.3 2.4-0.3 2.5-0.4 2.5-0.2 2.5-0.3 2.5-0.3 2.5-0.3 2.5-0.3 2.4-0.2 2.5-0.3 2.5-0.3 2.5-0.2 2.5-0.3 2.5-0.3 2.5-0.2 2.5-0.3 2.4-0.3 2.5-0.2 2.5-0.3 2.5-0.2 2.5-0.3 2.5-0.3 2.5-0.2 2.5-0.3 2.4-0.2 2.5-0.3 2.5-0.2 2.5-0.3 2.5-0.2 2.5-0.2 2.5-0.3 2.5-0.2 2.5-0.2 2.5-0.3 2.4-0.2 2.5-0.2 2.5-0.2 2.5-0.2 2.5-0.3 2.5-0.2 2.5-0.2 2.5-0.2 2.5-0.1 2.5-0.2 2.5-0.2 2.5-0.2 2.5-0.2 2.5-0.1 2.5-0.2 2.5-0.1 2.5-0.2 2.5-0.1 2.5-0.1 2.4-0.2 2.5-0.1 2.5-0.1 2.5-0.1 2.5-0.1 2.5-0.1 2.5-0.1 2.5-0.1 2.5-0.1 2.5-0.1 2.5-0.1 2.5,0 2.5-0.1 2.5,0 2.5-0.1 2.5-0.1 2.5,0 2.5-0.1 2.5,0 2.6,0 2.5-0.1 2.5,0 2.5,0 2.5,0 2.5-0.1 2.5,0 2.5,0 2.5,0 2.5,0 2.5,0 2.5,0 2.5-0.1 2.5,0 2.5,0 2.5,0 2.5,0 2.5,0 2.5,0 2.5,0.1 2.5,0 2.5,0 2.5,0 2.5,0 2.5,0 2.5,0 2.5,0 2.5,0 2.5,0 2.5,0 2.5,0 2.5,0 2.5,0 2.5,0 2.5,0 2.5,0 2.5,0 2.5,0 2.5,0 2.5,0 2.5,0 2.5,0 2.5,0 2.5,0 2.5,0 2.5,0 2.5,0 2.5,0 2.5,0 2.5,0 2.5,0 2.5,0 2.5,0 2.5,0 2.5,0 2.5,0 2.5,0 2.5,0 2.5,0 2.5-0.1 2.5,0 2.5,0 2.5,0 2.5,0 2.5,0 2.5,0 2.5,0 2.5,0 2.5,0 2.5-0.1 2.5,0 2.5,0 2.6,0 2.5,0 2.5,0 2.5,0 2.5,0 2.5,0 2.5,0 2.5,0 2.5-0.1 2.5,0 2.5,0 2.5,0 2.5,0 2.5,0 2.5,0 2.5,0 2.5,0 2.5,0 2.5,0 2.5,0 2.5,0 2.5,0 2.5,0 2.5,0 2.5,0 2.5,0 2.5,0 2.5,0 2.5,0 2.5,0 2.5,0 2.5,0 2.5,0 2.5,0 2.5,0 2.5,0 2.5,0 2.5,0 2.5,0 2.5,0 2.5,0 2.5,0 2.5,0.1 2.5,0 2.5,0 2.5,0 2.5,0 2.5,0 2.5,0 2.5,0 2.5,0 2.5,0.1 2.5,0 2.5,0 2.5,0 2.5,0 2.5,0 2.5,0 2.5,0 2.5,0.1 2.5,0 2.5,0 2.5,0 2.5,0 2.5,0 2.5,0 2.5,0 2.5,0 2.5,0.1 2.5,0 2.5,0 2.5,0 2.6,0.1 2.5,0 2.5,0.1 2.4,0.2 2.5,0.1 2.5,0.2 2.5,0.3 2.5,0.3 2.5,0.3 2.5,0.3 2.4,0.4 2.5,0.5 2.5,0.4 2.4,0.5 2.5,0.5 2.4,0.5 2.5,0.6 2.4,0.5 2.4,0.6 2.5,0.6 2.4,0.6 2.4,0.6 2.5,0.6 2.4,0.5 2.4,0.6 2.5,0.6 2.4,0.6 2.4,0.5 2.5,0.6 2.4,0.5 2.5,0.5 2.4,0.5 2.5,0.6 2.4,0.5 2.4,0.5 2.5,0.6 2.4,0.5 2.5,0.6 2.4,0.5 2.4,0.6 2.5,0.6 2.4,0.7 2.4,0.6 2.4,0.6 2.4,0.6 2.5,0.6 2.4,0.5 2.5,0.5 2.5,0.4 2.4,0.2 2.5,0.2 2.5,0 2.5-0.1 2.5-0.3 2.5-0.6 2.4-0.7 2.3-0.9 2.3-1 2.1-1.2 2.2-1.4 2-1.4 2-1.6 1.8-1.6 1.8-1.8 1.8-1.7 1.8-1.8 1.8-1.8 1.8-1.7 1.9-1.6 2-1.5 2.1-1.3 2.2-1.2 2.3-1.1 2.3-0.9 2.4-0.7 2.4-0.6 2.5-0.4 2.5-0.2 2.5-0.2 2.5,0 2.5,0 2.5,0.1 2.5,0.2 2.5,0.1 2.5,0.2 2.5,0.2 2.5,0.2 2.5,0.2 2.5,0.2 2.4,0.2 2.5,0.2 2.5,0.2 2.5,0.2 2.5,0.2 2.5,0.2 2.5,0.2 2.5,0.2 2.5,0.2 2.5,0.2 2.5,0.2 2.5,0.2 2.5,0.2 2.5,0.3 2.4,0.2 2.5,0.2 2.5,0.3 2.5,0.2 2.5,0.3 2.5,0.2 2.5,0.3 2.5,0.2 2.5,0.3 2.4,0.3 2.5,0.3 2.5,0.3 2.5,0.3 2.5,0.3 2.5,0.3 2.4,0.4 2.5,0.4 2.5,0.4 2.4,0.4 2.5,0.4 2.5,0.5 2.4,0.5 2.4,0.6 2.5,0.5 2.4,0.6 2.4,0.6 2.5,0.5 2.4,0.6 2.5,0.5 2.4,0.5 2.5,0.5 2.4,0.4 2.5,0.4 2.5,0.5 2.4,0.4 2.5,0.3 2.5,0.4 2.5,0.3 2.5,0.4 2.4,0.3 2.5,0.3 2.5,0.2 2.5,0.3 2.5,0.3 2.5,0.2 2.5,0.2 2.5,0.2 2.4,0.2 2.5,0.2 2.5,0.2 2.5,0.2 2.5,0.2 2.5,0.1 2.5,0.2 2.5,0.1 2.5,0.1 2.5,0.2 2.5,0.1 2.5,0.1 2.5,0.1 2.5,0.1 2.5,0.1 2.5,0.1 2.5,0.1 2.5,0.1 2.5,0.1 2.5,0.1 2.5,0.1 2.5,0.2 2.5,0.1 2.5,0.1 2.5,0.1 2.5,0.1 2.5,0.1 2.5,0.1 2.5,0.1 2.5,0.2 2.5,0.1 2.5,0.1 2.5,0.2 2.5,0.2 2.5,0.1 2.5,0.2 2.5,0.2 2.5,0.2 2.5,0.2 2.4,0.2 2.5,0.2 2.5,0.2 2.5,0.2 2.5,0.2 2.5,0.2 2.5,0.2 2.5,0.2 2.5,0.2 2.5,0.2 2.5,0.2 2.5,0.2 2.5,0.2 2.5,0.2 2.5,0.1 2.5,0.2 2.4,0.1 2.5,0.1 2.5,0.2 2.5,0 2.5,0.1 2.5,0.1 2.5,0 2.6,0 2.5,0 2.5,0 2.5,0 2.5-0.1 2.5-0.1 2.5-0.1 2.5-0.1 2.5-0.1 2.4-0.2 2.5-0.1 2.5-0.2 2.5-0.1 2.5-0.2 2.5-0.2 2.5-0.2 2.5-0.2 2.5-0.2 2.5-0.2 2.5-0.2 2.5-0.3 2.5-0.2 2.5-0.2 2.5-0.2 2.5-0.2 2.4-0.2 2.5-0.2 2.5-0.2 2.5-0.2 2.5-0.2 2.5-0.2 2.5-0.1 2.5-0.2 2.5-0.1 2.5-0.2 2.5-0.1 2.5-0.1 2.5-0.1 2.5-0.2 2.5-0.1 2.5-0.1 2.5-0.1 2.5-0.1 2.5,0 2.5-0.1 2.5-0.1 2.5-0.1 2.5-0.1 2.5,0 2.5-0.1 2.5-0.1 2.5,0 2.5-0.1 2.5,0 2.5-0.1 2.5-0.1 2.5,0 2.5-0.1 2.5,0 2.5-0.1 2.5,0 2.5-0.1 2.5-0.1 2.5,0 2.5-0.1 2.5,0 2.5-0.1" fill="none" stroke="#0000ff" stroke-width="11.2" stroke-linejoin="round" stroke-linecap="butt"/>
</g>
</g>
<g id="labels">
<text x="202.40" y="1422.25" font-size="82.00" font-weight="bold" text-anchor="end" fill="#000">55</text>
<text x="202.40" y="1282.01" font-size="82.00" font-weight="bold" text-anchor="end" fill="#000">60</text>
<text x="202.40" y="1141.78" font-size="82.00" font-weight="bold" text-anchor="end" fill="#000">65</text>
<text x="202.40" y="1001.54" font-size="82.00" font-weight="bold" text-anchor="end" fill="#000">70</text>
<text x="202.40" y="861.30" font-size="82.00" font-weight="bold" text-anchor="end" fill="#000">75</text>
<text x="202.40" y="721.07" font-size="82.00" font-weight="bold" text-anchor="end" fill="#000">80</text>
<text x="202.40" y="580.83" font-size="82.00" font-weight="bold" text-anchor="end" fill="#000">85</text>
<text x="202.40" y="440.59" font-size="82.00" font-weight="bold" text-anchor="end" fill="#000">90</text>
<text x="202.40" y="300.36" font-size="82.00" font-weight="bold" text-anchor="end" fill="#000">95</text>
<text x="202.40" y="160.12" font-size="82.00" font-weight="bold" text-anchor="end" fill="#000">100</text>
<text x="1913.50" y="1375.81" font-size="82.00" font-weight="bold" text-anchor="start" fill="#000">-0.003</text>
<text x="1913.50" y="1192.05" font-size="82.00" font-weight="bold" text-anchor="start" fill="#000">-0.002</text>
<text x="1913.50" y="1008.29" font-size="82.00" font-weight="bold" text-anchor="start" fill="#000">-0.001</text>
<text x="1913.50" y="824.53" font-size="82.00" font-weight="bold" text-anchor="start" fill="#000">0.000</text>
<text x="1913.50" y="640.78" font-size="82.00" font-weight="bold" text-anchor="start" fill="#000">0.001</text>
<text x="1913.50" y="457.02" font-size="82.00" font-weight="bold" text-anchor="start" fill="#000">0.002</text>
<text x="1913.50" y="273.26" font-size="82.00" font-weight="bold" text-anchor="start" fill="#000">0.003</text>
<text x="1913.50" y="89.50" font-size="82.00" font-weight="bold" text-anchor="start" fill="#000">0.004</text>
<text x="275.01" y="1490.50" font-size="82.00" font-weight="bold" text-anchor="middle" fill="#000">100</text>
<text x="454.03" y="1490.50" font-size="82.00" font-weight="bold" text-anchor="middle" fill="#000">200</text>
<text x="633.06" y="1490.50" font-size="82.00" font-weight="bold" text-anchor="middle" fill="#000">300</text>
<text x="812.09" y="1490.50" font-size="82.00" font-weight="bold" text-anchor="middle" fill="#000">400</text>
<text x="991.11" y="1490.50" font-size="82.00" font-weight="bold" text-anchor="middle" fill="#000">500</text>
<text x="1170.14" y="1490.50" font-size="82.00" font-weight="bold" text-anchor="middle" fill="#000">600</text>
<text x="1349.17" y="1490.50" font-size="82.00" font-weight="bold" text-anchor="middle" fill="#000">700</text>
<text x="1528.20" y="1490.50" font-size="82.00" font-weight="bold" text-anchor="middle" fill="#000">800</text>
<text x="1707.22" y="1490.50" font-size="82.00" font-weight="bold" text-anchor="middle" fill="#000">900</text>
<text x="1886.25" y="1490.50" font-size="82.00" font-weight="bold" text-anchor="middle" fill="#000">1000</text>
<text x="747.00" y="1624.00" font-size="82.40" font-weight="bold" text-anchor="start" fill="#000">Temperature (&#176;C)</text>
<text x="0.00" y="0.00" font-size="81.20" font-weight="bold" text-anchor="start" fill="#000" transform="translate(89.3,866.8) rotate(-90)">TG (%)</text>
<text x="0.00" y="0.00" font-size="81.60" font-weight="bold" text-anchor="start" fill="#000" transform="translate(2189.8,955.2) rotate(-90)">DTG (%/&#176;C)</text>
</g>
<g id="legend">
<line x1="1375.5" y1="125.4" x2="1513.5" y2="125.4" stroke="#0000ff" stroke-width="11" stroke-linecap="round"/>
<text x="1529.00" y="150.90" font-size="64.50" font-weight="normal" text-anchor="start" fill="#000">G0</text>
<line x1="1375.5" y1="210.6" x2="1513.5" y2="210.6" stroke="#00ff00" stroke-width="11" stroke-linecap="round"/>
<text x="1529.00" y="236.10" font-size="64.50" font-weight="normal" text-anchor="start" fill="#000">G1</text>
<line x1="1375.5" y1="295.8" x2="1513.5" y2="295.8" stroke="#000000" stroke-width="11" stroke-linecap="round"/>
<text x="1529.00" y="321.30" font-size="64.50" font-weight="normal" text-anchor="start" fill="#000">G2</text>
<line x1="1375.5" y1="381.0" x2="1513.5" y2="381.0" stroke="#ff0000" stroke-width="11" stroke-linecap="round"/>
<text x="1529.00" y="406.50" font-size="64.50" font-weight="normal" text-anchor="start" fill="#000">G3</text>
</g>
<g id="annot">
<line x1="535.5" y1="833.8" x2="687.8" y2="585.0" stroke="#ff0000" stroke-width="7.3" stroke-linecap="round"/><polygon points="704.5,557.7 695.1,594.1 676.3,582.6" fill="#ff0000" stroke="#ff0000" stroke-width="3" stroke-linejoin="round"/>
<line x1="366.5" y1="1329.5" x2="397.1" y2="1285.5" stroke="#ff0000" stroke-width="7.3" stroke-linecap="round"/><polygon points="415.3,1259.2 403.8,1295.1 385.8,1282.5" fill="#ff0000" stroke="#ff0000" stroke-width="3" stroke-linejoin="round"/>
<line x1="1407.5" y1="1044.3" x2="1355.6" y2="890.1" stroke="#ff0000" stroke-width="7.3" stroke-linecap="round"/><polygon points="1345.4,859.7 1367.3,890.3 1346.4,897.3" fill="#ff0000" stroke="#ff0000" stroke-width="3" stroke-linejoin="round"/>
<text x="446.00" y="849.00" font-size="52.00" font-weight="normal" text-anchor="start" fill="#ff0000">AH<tspan font-size="34" dx="-1.5" dy="18.2">3</tspan></text>
<text x="364.50" y="1377.30" font-size="49.50" font-weight="normal" text-anchor="start" fill="#ff0000">AFt</text>
<text x="1362.20" y="1098.90" font-size="51.80" font-weight="normal" text-anchor="start" fill="#ff0000">CaCO<tspan font-size="34.2" dx="-1.5" dy="17.4">3</tspan></text>
</g>
</svg>
</body></html>
